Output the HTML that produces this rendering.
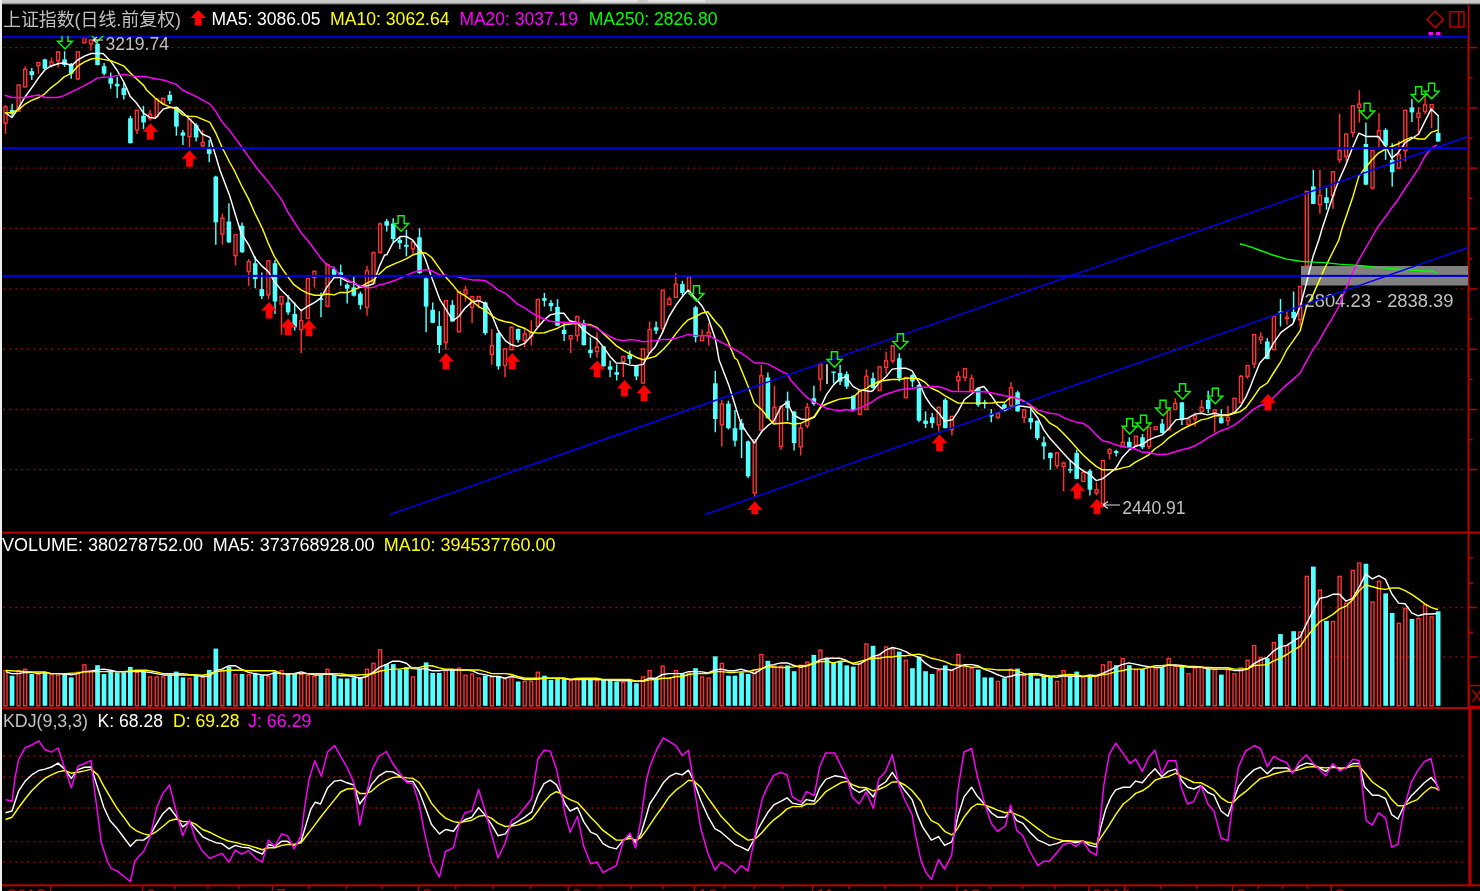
<!DOCTYPE html>
<html><head><meta charset="utf-8"><title>上证指数</title>
<style>html,body{margin:0;padding:0;background:#000;overflow:hidden}svg{display:block}</style></head>
<body><svg width="1480" height="891" viewBox="0 0 1480 891" shape-rendering="auto">
<rect x="0" y="0" width="1480" height="891" fill="#000"/>
<linearGradient id="tg" x1="0" y1="0" x2="0" y2="1"><stop offset="0" stop-color="#cccccc"/><stop offset="0.6" stop-color="#c4c4c4"/><stop offset="1" stop-color="#000"/></linearGradient>
<rect x="0" y="0" width="1480" height="5" fill="url(#tg)"/>
<rect x="580.5" y="0" width="57.5" height="2.2" fill="#e2e2e2"/><rect x="647.5" y="0" width="58" height="2.2" fill="#e2e2e2"/>
<rect x="0" y="0" width="2" height="891" fill="#eeeeee"/>
<line x1="3.5" y1="47.6" x2="1466" y2="47.6" stroke="#b80000" stroke-width="1.4" stroke-dasharray="1.5 4.5"/>
<line x1="3.5" y1="107.9" x2="1466" y2="107.9" stroke="#b80000" stroke-width="1.4" stroke-dasharray="1.5 4.5"/>
<line x1="3.5" y1="168.1" x2="1466" y2="168.1" stroke="#b80000" stroke-width="1.4" stroke-dasharray="1.5 4.5"/>
<line x1="3.5" y1="228.4" x2="1466" y2="228.4" stroke="#b80000" stroke-width="1.4" stroke-dasharray="1.5 4.5"/>
<line x1="3.5" y1="288.9" x2="1466" y2="288.9" stroke="#b80000" stroke-width="1.4" stroke-dasharray="1.5 4.5"/>
<line x1="3.5" y1="349.3" x2="1466" y2="349.3" stroke="#b80000" stroke-width="1.4" stroke-dasharray="1.5 4.5"/>
<line x1="3.5" y1="409.5" x2="1466" y2="409.5" stroke="#b80000" stroke-width="1.4" stroke-dasharray="1.5 4.5"/>
<line x1="3.5" y1="469.6" x2="1466" y2="469.6" stroke="#b80000" stroke-width="1.4" stroke-dasharray="1.5 4.5"/>
<line x1="3.5" y1="607.5" x2="1466" y2="607.5" stroke="#b80000" stroke-width="1.4" stroke-dasharray="1.5 4.5"/>
<line x1="3.5" y1="657" x2="1466" y2="657" stroke="#b80000" stroke-width="1.4" stroke-dasharray="1.5 4.5"/>
<line x1="3.5" y1="756" x2="1465" y2="756" stroke="#b80000" stroke-width="1.4" stroke-dasharray="1.5 4.5"/>
<line x1="3.5" y1="777" x2="1465" y2="777" stroke="#b80000" stroke-width="1.4" stroke-dasharray="1.5 4.5"/>
<line x1="3.5" y1="808" x2="1465" y2="808" stroke="#b80000" stroke-width="1.4" stroke-dasharray="1.5 4.5"/>
<line x1="3.5" y1="841.6" x2="1465" y2="841.6" stroke="#b80000" stroke-width="1.4" stroke-dasharray="1.5 4.5"/>
<line x1="3.5" y1="862" x2="1465" y2="862" stroke="#b80000" stroke-width="1.4" stroke-dasharray="1.5 4.5"/>
<rect x="2" y="531.6" width="1478" height="2" fill="#b80000"/>
<rect x="2" y="707" width="1478" height="2" fill="#b80000"/>
<rect x="2" y="884.3" width="1478" height="2" fill="#b80000"/>
<rect x="1467.5" y="5" width="2" height="702" fill="#b80000"/>
<rect x="1468.3" y="707" width="3.2" height="179.5" fill="#b80000"/>
<rect x="1469" y="46.85" width="8" height="1.5" fill="#b80000"/>
<rect x="1469" y="107.15" width="8" height="1.5" fill="#b80000"/>
<rect x="1469" y="167.35" width="8" height="1.5" fill="#b80000"/>
<rect x="1469" y="227.65" width="8" height="1.5" fill="#b80000"/>
<rect x="1469" y="288.15" width="8" height="1.5" fill="#b80000"/>
<rect x="1469" y="348.55" width="8" height="1.5" fill="#b80000"/>
<rect x="1469" y="408.75" width="8" height="1.5" fill="#b80000"/>
<rect x="1469" y="468.85" width="8" height="1.5" fill="#b80000"/>
<rect x="1469" y="77.0" width="3.5" height="1.5" fill="#b80000"/>
<rect x="1469" y="137.25" width="3.5" height="1.5" fill="#b80000"/>
<rect x="1469" y="197.5" width="3.5" height="1.5" fill="#b80000"/>
<rect x="1469" y="257.9" width="3.5" height="1.5" fill="#b80000"/>
<rect x="1469" y="318.35" width="3.5" height="1.5" fill="#b80000"/>
<rect x="1469" y="378.65" width="3.5" height="1.5" fill="#b80000"/>
<rect x="1469" y="438.8" width="3.5" height="1.5" fill="#b80000"/>
<rect x="1469" y="557.25" width="4" height="1.5" fill="#b80000"/>
<rect x="1469" y="582.25" width="4" height="1.5" fill="#b80000"/>
<rect x="1469" y="606.75" width="8" height="1.5" fill="#b80000"/>
<rect x="1469" y="631.75" width="4" height="1.5" fill="#b80000"/>
<rect x="1469" y="656.25" width="8" height="1.5" fill="#b80000"/>
<rect x="1469" y="685.5" width="12" height="21" fill="none" stroke="#b80000" stroke-width="1.5"/>
<path d="M1472.5 690 L1481 702 M1481 690 L1472.5 702" stroke="#b80000" stroke-width="1.3" fill="none"/>
<rect x="1301" y="266" width="167" height="19.5" fill="#808080"/>
<rect x="1301" y="286.5" width="154.5" height="23" fill="#000"/>
<text x="1304.5" y="307" fill="#c0c0c0" font-size="18.8" textLength="149" lengthAdjust="spacingAndGlyphs" font-family="Liberation Sans, Noto Sans CJK SC, sans-serif" >2804.23 - 2838.39</text>
<path d="M5.5 105V106.9M5.5 123.1V133.8" stroke="#ff3232" stroke-width="1.45"/>
<rect x="4" y="106.9" width="3" height="16.2" fill="#000" stroke="#ff3232" stroke-width="1.4"/>
<path d="M12.1 103.8V116.2" stroke="#54ffff" stroke-width="1.45"/>
<rect x="9.8" y="110" width="4.6" height="3.8" fill="#54ffff"/>
<path d="M18.6 84.4V85M18.6 111.2V111.9" stroke="#ff3232" stroke-width="1.45"/>
<rect x="17.1" y="85" width="3" height="26.2" fill="#000" stroke="#ff3232" stroke-width="1.4"/>
<path d="M25.2 66.2V69.4M25.2 86.9V87.2" stroke="#ff3232" stroke-width="1.45"/>
<rect x="23.7" y="69.4" width="3" height="17.5" fill="#000" stroke="#ff3232" stroke-width="1.4"/>
<path d="M31.8 68.1V80" stroke="#54ffff" stroke-width="1.45"/>
<rect x="29.5" y="71.2" width="4.6" height="3.8" fill="#54ffff"/>
<path d="M38.4 62.2V62.5M38.4 65.6V73.8" stroke="#ff3232" stroke-width="1.45"/>
<rect x="36.9" y="62.5" width="3" height="3.1" fill="#000" stroke="#ff3232" stroke-width="1.4"/>
<path d="M44.9 58.8V69.4" stroke="#54ffff" stroke-width="1.45"/>
<rect x="42.6" y="59.4" width="4.6" height="9.4" fill="#54ffff"/>
<path d="M51.5 57.5V61.9M51.5 65.6V67.5" stroke="#ff3232" stroke-width="1.45"/>
<rect x="50" y="61.9" width="3" height="3.8" fill="#000" stroke="#ff3232" stroke-width="1.4"/>
<path d="M58.1 51.5V51.9M58.1 60.6V67.5" stroke="#ff3232" stroke-width="1.45"/>
<rect x="56.6" y="51.9" width="3" height="8.8" fill="#000" stroke="#ff3232" stroke-width="1.4"/>
<path d="M64.6 51.2V66.9" stroke="#54ffff" stroke-width="1.45"/>
<rect x="62.3" y="59.4" width="4.6" height="5.6" fill="#54ffff"/>
<path d="M71.2 63.1V78.8" stroke="#54ffff" stroke-width="1.45"/>
<rect x="68.9" y="63.8" width="4.6" height="10" fill="#54ffff"/>
<path d="M77.8 51.5V51.9M77.8 78.8V80" stroke="#ff3232" stroke-width="1.45"/>
<rect x="76.3" y="51.9" width="3" height="26.9" fill="#000" stroke="#ff3232" stroke-width="1.4"/>
<path d="M84.4 37.2V37.8M84.4 42.5V43.8" stroke="#ff3232" stroke-width="1.45"/>
<rect x="82.9" y="37.8" width="3" height="4.8" fill="#000" stroke="#ff3232" stroke-width="1.4"/>
<path d="M90.9 39.4V40M90.9 43.8V50.6" stroke="#ff3232" stroke-width="1.45"/>
<rect x="89.4" y="40" width="3" height="3.8" fill="#000" stroke="#ff3232" stroke-width="1.4"/>
<path d="M97.5 42.5V65.4" stroke="#54ffff" stroke-width="1.45"/>
<rect x="95.2" y="43.8" width="4.6" height="21.2" fill="#54ffff"/>
<path d="M104.1 63.1V75.6" stroke="#54ffff" stroke-width="1.45"/>
<rect x="101.8" y="66.2" width="4.6" height="7.5" fill="#54ffff"/>
<path d="M110.7 72.5V88.8" stroke="#54ffff" stroke-width="1.45"/>
<rect x="108.4" y="78.1" width="4.6" height="5.6" fill="#54ffff"/>
<path d="M117.2 76.9V98.1" stroke="#54ffff" stroke-width="1.45"/>
<rect x="114.9" y="83.8" width="4.6" height="2.5" fill="#54ffff"/>
<path d="M123.8 82.5V99.4" stroke="#54ffff" stroke-width="1.45"/>
<rect x="121.5" y="88.1" width="4.6" height="6.9" fill="#54ffff"/>
<path d="M130.4 115.8V143.5" stroke="#54ffff" stroke-width="1.45"/>
<rect x="128.1" y="118.3" width="4.6" height="24.9" fill="#54ffff"/>
<path d="M136.9 109.9V110.3M136.9 129.9V134" stroke="#ff3232" stroke-width="1.45"/>
<rect x="135.4" y="110.3" width="3" height="19.6" fill="#000" stroke="#ff3232" stroke-width="1.4"/>
<path d="M143.5 105.8V129.1" stroke="#54ffff" stroke-width="1.45"/>
<rect x="141.2" y="115.8" width="4.6" height="6.6" fill="#54ffff"/>
<path d="M150.1 109.9V114.1M150.1 118.3V120.8" stroke="#ff3232" stroke-width="1.45"/>
<rect x="148.6" y="114.1" width="3" height="4.2" fill="#000" stroke="#ff3232" stroke-width="1.4"/>
<path d="M156.7 98.6V99.1M156.7 116.6V117.1" stroke="#ff3232" stroke-width="1.45"/>
<rect x="155.2" y="99.1" width="3" height="17.5" fill="#000" stroke="#ff3232" stroke-width="1.4"/>
<path d="M163.2 98V98.3M163.2 103.3V105" stroke="#ff3232" stroke-width="1.45"/>
<rect x="161.7" y="98.3" width="3" height="5" fill="#000" stroke="#ff3232" stroke-width="1.4"/>
<path d="M169.8 90.8V104.1" stroke="#54ffff" stroke-width="1.45"/>
<rect x="167.5" y="95" width="4.6" height="5.8" fill="#54ffff"/>
<path d="M176.4 106.6V135.7" stroke="#54ffff" stroke-width="1.45"/>
<rect x="174.1" y="107.5" width="4.6" height="19.1" fill="#54ffff"/>
<path d="M182.9 129.9V144.9" stroke="#54ffff" stroke-width="1.45"/>
<rect x="180.6" y="132.4" width="4.6" height="3.3" fill="#54ffff"/>
<path d="M189.5 118.6V119.1M189.5 136.5V148.2" stroke="#ff3232" stroke-width="1.45"/>
<rect x="188" y="119.1" width="3" height="17.5" fill="#000" stroke="#ff3232" stroke-width="1.4"/>
<path d="M196.1 123.2V141.5" stroke="#54ffff" stroke-width="1.45"/>
<rect x="193.8" y="124.9" width="4.6" height="12.5" fill="#54ffff"/>
<path d="M202.7 129.9V142.4M202.7 145.7V147.3" stroke="#ff3232" stroke-width="1.45"/>
<rect x="201.2" y="142.4" width="3" height="3.3" fill="#000" stroke="#ff3232" stroke-width="1.4"/>
<path d="M209.2 139.9V162.3" stroke="#54ffff" stroke-width="1.45"/>
<rect x="206.9" y="147.3" width="4.6" height="6.6" fill="#54ffff"/>
<path d="M215.8 175.8V244.8" stroke="#54ffff" stroke-width="1.45"/>
<rect x="213.5" y="176.6" width="4.6" height="45.7" fill="#54ffff"/>
<path d="M222.4 213.6V218.2M222.4 234V244.8" stroke="#ff3232" stroke-width="1.45"/>
<rect x="220.9" y="218.2" width="3" height="15.8" fill="#000" stroke="#ff3232" stroke-width="1.4"/>
<path d="M228.9 203.2V243.1" stroke="#54ffff" stroke-width="1.45"/>
<rect x="226.6" y="221.5" width="4.6" height="20.8" fill="#54ffff"/>
<path d="M235.5 234.5V234.8M235.5 255.6V265.6" stroke="#ff3232" stroke-width="1.45"/>
<rect x="234" y="234.8" width="3" height="20.8" fill="#000" stroke="#ff3232" stroke-width="1.4"/>
<path d="M242.1 222.4V252.8" stroke="#54ffff" stroke-width="1.45"/>
<rect x="239.8" y="225.7" width="4.6" height="26.6" fill="#54ffff"/>
<path d="M248.7 259.1V261.6M248.7 271.6V285.7" stroke="#ff3232" stroke-width="1.45"/>
<rect x="247.2" y="261.6" width="3" height="10" fill="#000" stroke="#ff3232" stroke-width="1.4"/>
<path d="M255.2 256.6V288.2" stroke="#54ffff" stroke-width="1.45"/>
<rect x="252.9" y="263.3" width="4.6" height="15.8" fill="#54ffff"/>
<path d="M261.8 272.4V299" stroke="#54ffff" stroke-width="1.45"/>
<rect x="259.5" y="289.1" width="4.6" height="7.1" fill="#54ffff"/>
<path d="M268.4 260.3V260.8M268.4 294.9V299" stroke="#ff3232" stroke-width="1.45"/>
<rect x="266.9" y="260.8" width="3" height="34.1" fill="#000" stroke="#ff3232" stroke-width="1.4"/>
<path d="M275 260V314" stroke="#54ffff" stroke-width="1.45"/>
<rect x="272.7" y="263.3" width="4.6" height="38.2" fill="#54ffff"/>
<path d="M281.5 296.2V296.5M281.5 304V334.8" stroke="#ff3232" stroke-width="1.45"/>
<rect x="280" y="296.5" width="3" height="7.5" fill="#000" stroke="#ff3232" stroke-width="1.4"/>
<path d="M288.1 294.9V314.8" stroke="#54ffff" stroke-width="1.45"/>
<rect x="285.8" y="302.4" width="4.6" height="10" fill="#54ffff"/>
<path d="M294.7 302.4V330.6" stroke="#54ffff" stroke-width="1.45"/>
<rect x="292.4" y="314" width="4.6" height="13.3" fill="#54ffff"/>
<path d="M301.2 309V320.6M301.2 329.8V353.1" stroke="#ff3232" stroke-width="1.45"/>
<rect x="299.7" y="320.6" width="3" height="9.1" fill="#000" stroke="#ff3232" stroke-width="1.4"/>
<path d="M307.8 278.3V278.6M307.8 318.2V318.5" stroke="#ff3232" stroke-width="1.45"/>
<rect x="306.3" y="278.6" width="3" height="39.6" fill="#000" stroke="#ff3232" stroke-width="1.4"/>
<path d="M314.4 270.9V271.3M314.4 277.4V287.4" stroke="#ff3232" stroke-width="1.45"/>
<rect x="312.9" y="271.3" width="3" height="6.2" fill="#000" stroke="#ff3232" stroke-width="1.4"/>
<path d="M321 292.4V317.3" stroke="#54ffff" stroke-width="1.45"/>
<rect x="318.7" y="298.2" width="4.6" height="1.7" fill="#54ffff"/>
<path d="M327.5 263.3V264.6M327.5 306.2V306.5" stroke="#ff3232" stroke-width="1.45"/>
<rect x="326" y="264.6" width="3" height="41.6" fill="#000" stroke="#ff3232" stroke-width="1.4"/>
<path d="M334.1 266.6V278.3" stroke="#54ffff" stroke-width="1.45"/>
<rect x="331.8" y="269.1" width="4.6" height="5.8" fill="#54ffff"/>
<path d="M340.7 264.6V285.7" stroke="#54ffff" stroke-width="1.45"/>
<rect x="338.4" y="272.4" width="4.6" height="4.2" fill="#54ffff"/>
<path d="M347.2 283.2V303.5" stroke="#54ffff" stroke-width="1.45"/>
<rect x="344.9" y="284.6" width="4.6" height="4" fill="#54ffff"/>
<path d="M353.8 276.6V296.5" stroke="#54ffff" stroke-width="1.45"/>
<rect x="351.5" y="287.4" width="4.6" height="8.3" fill="#54ffff"/>
<path d="M360.4 291.6V309.5" stroke="#54ffff" stroke-width="1.45"/>
<rect x="358.1" y="293.6" width="4.6" height="11.3" fill="#54ffff"/>
<path d="M367 265.8V270.8M367 307.3V315.7" stroke="#ff3232" stroke-width="1.45"/>
<rect x="365.5" y="270.8" width="3" height="36.6" fill="#000" stroke="#ff3232" stroke-width="1.4"/>
<path d="M373.5 251.3V252.8M373.5 283.2V283.6" stroke="#ff3232" stroke-width="1.45"/>
<rect x="372" y="252.8" width="3" height="30.4" fill="#000" stroke="#ff3232" stroke-width="1.4"/>
<path d="M380.1 222.4V224M380.1 252.3V252.6" stroke="#ff3232" stroke-width="1.45"/>
<rect x="378.6" y="224" width="3" height="28.3" fill="#000" stroke="#ff3232" stroke-width="1.4"/>
<path d="M386.7 219V231.5" stroke="#54ffff" stroke-width="1.45"/>
<rect x="384.4" y="221.2" width="4.6" height="4.5" fill="#54ffff"/>
<path d="M393.2 218.2V242.3" stroke="#54ffff" stroke-width="1.45"/>
<rect x="390.9" y="223.5" width="4.6" height="15.5" fill="#54ffff"/>
<path d="M399.8 236.5V249" stroke="#54ffff" stroke-width="1.45"/>
<rect x="397.5" y="239.8" width="4.6" height="3.3" fill="#54ffff"/>
<path d="M406.4 229.8V256.4" stroke="#54ffff" stroke-width="1.45"/>
<rect x="404.1" y="244.8" width="4.6" height="2" fill="#54ffff"/>
<path d="M413 241.5V241.8M413 249V253.9" stroke="#ff3232" stroke-width="1.45"/>
<rect x="411.5" y="241.8" width="3" height="7.1" fill="#000" stroke="#ff3232" stroke-width="1.4"/>
<path d="M419.5 228.2V273.9" stroke="#54ffff" stroke-width="1.45"/>
<rect x="417.2" y="237.3" width="4.6" height="35.7" fill="#54ffff"/>
<path d="M426.1 277.4V332.3" stroke="#54ffff" stroke-width="1.45"/>
<rect x="423.8" y="278.3" width="4.6" height="28.3" fill="#54ffff"/>
<path d="M432.7 302.4V323.1" stroke="#54ffff" stroke-width="1.45"/>
<rect x="430.4" y="309.8" width="4.6" height="13" fill="#54ffff"/>
<path d="M439.3 311.2V353.1" stroke="#54ffff" stroke-width="1.45"/>
<rect x="437" y="326.1" width="4.6" height="18.9" fill="#54ffff"/>
<path d="M445.8 300.4V300.7M445.8 342.3V349.8" stroke="#ff3232" stroke-width="1.45"/>
<rect x="444.3" y="300.7" width="3" height="41.6" fill="#000" stroke="#ff3232" stroke-width="1.4"/>
<path d="M452.4 300.2V321.8" stroke="#54ffff" stroke-width="1.45"/>
<rect x="450.1" y="304.9" width="4.6" height="16.6" fill="#54ffff"/>
<path d="M459 291.2V291.6M459 331.8V332.1" stroke="#ff3232" stroke-width="1.45"/>
<rect x="457.5" y="291.6" width="3" height="40.2" fill="#000" stroke="#ff3232" stroke-width="1.4"/>
<path d="M465.5 285.8V289.9M465.5 294.1V301.6" stroke="#ff3232" stroke-width="1.45"/>
<rect x="464" y="289.9" width="3" height="4.2" fill="#000" stroke="#ff3232" stroke-width="1.4"/>
<path d="M472.1 296.2V296.6M472.1 307.4V323.2" stroke="#ff3232" stroke-width="1.45"/>
<rect x="470.6" y="296.6" width="3" height="10.8" fill="#000" stroke="#ff3232" stroke-width="1.4"/>
<path d="M478.7 295.7V296.6M478.7 300.7V308.2" stroke="#ff3232" stroke-width="1.45"/>
<rect x="477.2" y="296.6" width="3" height="4.2" fill="#000" stroke="#ff3232" stroke-width="1.4"/>
<path d="M485.3 301.6V335.1" stroke="#54ffff" stroke-width="1.45"/>
<rect x="483" y="302.4" width="4.6" height="30.8" fill="#54ffff"/>
<path d="M491.8 329V345.6M491.8 354.4V364.7" stroke="#ff3232" stroke-width="1.45"/>
<rect x="490.3" y="345.6" width="3" height="8.8" fill="#000" stroke="#ff3232" stroke-width="1.4"/>
<path d="M498.4 329.8V369.7" stroke="#54ffff" stroke-width="1.45"/>
<rect x="496.1" y="333.1" width="4.6" height="33.2" fill="#54ffff"/>
<path d="M505 348.6V348.9M505 365.6V377.2" stroke="#ff3232" stroke-width="1.45"/>
<rect x="503.5" y="348.9" width="3" height="16.6" fill="#000" stroke="#ff3232" stroke-width="1.4"/>
<path d="M511.5 326.2V327.3M511.5 349.8V350.1" stroke="#ff3232" stroke-width="1.45"/>
<rect x="510" y="327.3" width="3" height="22.4" fill="#000" stroke="#ff3232" stroke-width="1.4"/>
<path d="M518.1 328.5V342.6" stroke="#54ffff" stroke-width="1.45"/>
<rect x="515.8" y="329" width="4.6" height="10.8" fill="#54ffff"/>
<path d="M524.7 329V334M524.7 340.6V347.3" stroke="#ff3232" stroke-width="1.45"/>
<rect x="523.2" y="334" width="3" height="6.6" fill="#000" stroke="#ff3232" stroke-width="1.4"/>
<path d="M531.3 320.2V333.1M531.3 336.5V345.6" stroke="#ff3232" stroke-width="1.45"/>
<rect x="529.8" y="333.1" width="3" height="3.3" fill="#000" stroke="#ff3232" stroke-width="1.4"/>
<path d="M537.8 299.1V299.4M537.8 326.5V326.8" stroke="#ff3232" stroke-width="1.45"/>
<rect x="536.3" y="299.4" width="3" height="27.1" fill="#000" stroke="#ff3232" stroke-width="1.4"/>
<path d="M544.4 292.9V306.5" stroke="#54ffff" stroke-width="1.45"/>
<rect x="542.1" y="298.2" width="4.6" height="2.5" fill="#54ffff"/>
<path d="M551 299.9V311.2" stroke="#54ffff" stroke-width="1.45"/>
<rect x="548.7" y="302.9" width="4.6" height="3.3" fill="#54ffff"/>
<path d="M557.5 299.1V326" stroke="#54ffff" stroke-width="1.45"/>
<rect x="555.2" y="306.9" width="4.6" height="18.8" fill="#54ffff"/>
<path d="M564.1 323.2V341.1" stroke="#54ffff" stroke-width="1.45"/>
<rect x="561.8" y="329.8" width="4.6" height="4.2" fill="#54ffff"/>
<path d="M570.7 335.3V335.6M570.7 339V353.1" stroke="#ff3232" stroke-width="1.45"/>
<rect x="569.2" y="335.6" width="3" height="3.3" fill="#000" stroke="#ff3232" stroke-width="1.4"/>
<path d="M577.3 315.7V316.5M577.3 335.6V341.4" stroke="#ff3232" stroke-width="1.45"/>
<rect x="575.8" y="316.5" width="3" height="19.1" fill="#000" stroke="#ff3232" stroke-width="1.4"/>
<path d="M583.8 319.8V345.4" stroke="#54ffff" stroke-width="1.45"/>
<rect x="581.5" y="324" width="4.6" height="21.1" fill="#54ffff"/>
<path d="M590.4 337.3V357.7" stroke="#54ffff" stroke-width="1.45"/>
<rect x="588.1" y="349.8" width="4.6" height="3.3" fill="#54ffff"/>
<path d="M597 332.3V347.3M597 351.4V357.7" stroke="#ff3232" stroke-width="1.45"/>
<rect x="595.5" y="347.3" width="3" height="4.2" fill="#000" stroke="#ff3232" stroke-width="1.4"/>
<path d="M603.6 346.1V366.7" stroke="#54ffff" stroke-width="1.45"/>
<rect x="601.3" y="346.4" width="4.6" height="19.9" fill="#54ffff"/>
<path d="M610.1 360.6V377.2" stroke="#54ffff" stroke-width="1.45"/>
<rect x="607.8" y="366.4" width="4.6" height="3.3" fill="#54ffff"/>
<path d="M616.7 364.4V380.5" stroke="#54ffff" stroke-width="1.45"/>
<rect x="614.4" y="372.2" width="4.6" height="2.5" fill="#54ffff"/>
<path d="M623.3 356.1V356.4M623.3 361.7V377.2" stroke="#ff3232" stroke-width="1.45"/>
<rect x="621.8" y="356.4" width="3" height="5.3" fill="#000" stroke="#ff3232" stroke-width="1.4"/>
<path d="M629.8 350.6V363.9" stroke="#54ffff" stroke-width="1.45"/>
<rect x="627.5" y="354.7" width="4.6" height="4.2" fill="#54ffff"/>
<path d="M636.4 365.2V380" stroke="#54ffff" stroke-width="1.45"/>
<rect x="634.1" y="365.6" width="4.6" height="10.8" fill="#54ffff"/>
<path d="M643 348.6V348.9M643 383V383.3" stroke="#ff3232" stroke-width="1.45"/>
<rect x="641.5" y="348.9" width="3" height="34.1" fill="#000" stroke="#ff3232" stroke-width="1.4"/>
<path d="M649.6 321.5V329.5M649.6 352.7V353.1" stroke="#ff3232" stroke-width="1.45"/>
<rect x="648.1" y="329.5" width="3" height="23.3" fill="#000" stroke="#ff3232" stroke-width="1.4"/>
<path d="M656.1 321.5V333.9" stroke="#54ffff" stroke-width="1.45"/>
<rect x="653.8" y="327.3" width="4.6" height="3.3" fill="#54ffff"/>
<path d="M662.7 289.9V290.2M662.7 328.5V333.1" stroke="#ff3232" stroke-width="1.45"/>
<rect x="661.2" y="290.2" width="3" height="38.2" fill="#000" stroke="#ff3232" stroke-width="1.4"/>
<path d="M669.3 296.5V299M669.3 304.5V304.9" stroke="#ff3232" stroke-width="1.45"/>
<rect x="667.8" y="299" width="3" height="5.5" fill="#000" stroke="#ff3232" stroke-width="1.4"/>
<path d="M675.8 273.3V284.1M675.8 297.4V297.7" stroke="#ff3232" stroke-width="1.45"/>
<rect x="674.3" y="284.1" width="3" height="13.3" fill="#000" stroke="#ff3232" stroke-width="1.4"/>
<path d="M682.4 280.8V295.7" stroke="#54ffff" stroke-width="1.45"/>
<rect x="680.1" y="284.1" width="4.6" height="8.8" fill="#54ffff"/>
<path d="M689 276.6V276.9M689 291.6V292.4" stroke="#ff3232" stroke-width="1.45"/>
<rect x="687.5" y="276.9" width="3" height="14.6" fill="#000" stroke="#ff3232" stroke-width="1.4"/>
<path d="M695.6 305.7V342.3" stroke="#54ffff" stroke-width="1.45"/>
<rect x="693.3" y="307.3" width="4.6" height="29.9" fill="#54ffff"/>
<path d="M702.1 329.5V335.6M702.1 340.6V340.9" stroke="#ff3232" stroke-width="1.45"/>
<rect x="700.6" y="335.6" width="3" height="5" fill="#000" stroke="#ff3232" stroke-width="1.4"/>
<path d="M708.7 323.1V332.3M708.7 336.1V345.6" stroke="#ff3232" stroke-width="1.45"/>
<rect x="707.2" y="332.3" width="3" height="3.8" fill="#000" stroke="#ff3232" stroke-width="1.4"/>
<path d="M715.3 370.8V432.3" stroke="#54ffff" stroke-width="1.45"/>
<rect x="713" y="383.3" width="4.6" height="35.7" fill="#54ffff"/>
<path d="M721.8 399.9V404M721.8 424.8V446.4" stroke="#ff3232" stroke-width="1.45"/>
<rect x="720.3" y="404" width="3" height="20.8" fill="#000" stroke="#ff3232" stroke-width="1.4"/>
<path d="M728.4 400.7V429.5" stroke="#54ffff" stroke-width="1.45"/>
<rect x="726.1" y="403.6" width="4.6" height="24.6" fill="#54ffff"/>
<path d="M735 409.9V446.4" stroke="#54ffff" stroke-width="1.45"/>
<rect x="732.7" y="428.2" width="4.6" height="12.5" fill="#54ffff"/>
<path d="M741.6 419V458.1" stroke="#54ffff" stroke-width="1.45"/>
<rect x="739.3" y="423.2" width="4.6" height="6.6" fill="#54ffff"/>
<path d="M748.1 440.6V478" stroke="#54ffff" stroke-width="1.45"/>
<rect x="745.8" y="441.4" width="4.6" height="34.9" fill="#54ffff"/>
<path d="M754.7 439V439.8M754.7 493V497.1" stroke="#ff3232" stroke-width="1.45"/>
<rect x="753.2" y="439.8" width="3" height="53.2" fill="#000" stroke="#ff3232" stroke-width="1.4"/>
<path d="M761.3 365V375.8M761.3 430.1V430.5" stroke="#ff3232" stroke-width="1.45"/>
<rect x="759.8" y="375.8" width="3" height="54.4" fill="#000" stroke="#ff3232" stroke-width="1.4"/>
<path d="M767.9 372.5V418.5" stroke="#54ffff" stroke-width="1.45"/>
<rect x="765.6" y="377.5" width="4.6" height="40.7" fill="#54ffff"/>
<path d="M774.4 385.8V407.4M774.4 423.2V424" stroke="#ff3232" stroke-width="1.45"/>
<rect x="772.9" y="407.4" width="3" height="15.8" fill="#000" stroke="#ff3232" stroke-width="1.4"/>
<path d="M781 406.2V406.5M781 446.4V449.8" stroke="#ff3232" stroke-width="1.45"/>
<rect x="779.5" y="406.5" width="3" height="39.9" fill="#000" stroke="#ff3232" stroke-width="1.4"/>
<path d="M787.6 391.6V420.7" stroke="#54ffff" stroke-width="1.45"/>
<rect x="785.3" y="400.7" width="4.6" height="7.5" fill="#54ffff"/>
<path d="M794.1 410.7V450.6" stroke="#54ffff" stroke-width="1.45"/>
<rect x="791.8" y="411.5" width="4.6" height="31.6" fill="#54ffff"/>
<path d="M800.7 424V428.2M800.7 446.8V455.6" stroke="#ff3232" stroke-width="1.45"/>
<rect x="799.2" y="428.2" width="3" height="18.6" fill="#000" stroke="#ff3232" stroke-width="1.4"/>
<path d="M807.3 402.9V407.4M807.3 425.7V428.2" stroke="#ff3232" stroke-width="1.45"/>
<rect x="805.8" y="407.4" width="3" height="18.3" fill="#000" stroke="#ff3232" stroke-width="1.4"/>
<path d="M813.9 385.8V405.7" stroke="#54ffff" stroke-width="1.45"/>
<rect x="811.6" y="398.2" width="4.6" height="5.8" fill="#54ffff"/>
<path d="M820.4 362.5V364.2M820.4 379.1V390.8" stroke="#ff3232" stroke-width="1.45"/>
<rect x="818.9" y="364.2" width="3" height="15" fill="#000" stroke="#ff3232" stroke-width="1.4"/>
<path d="M827 364.2V384.1" stroke="#ffffff" stroke-width="1.45"/>
<path d="M833.6 371.3V383.3" stroke="#54ffff" stroke-width="1.45"/>
<rect x="831.3" y="371.6" width="4.6" height="1.2" fill="#54ffff"/>
<path d="M840.1 365V384.9" stroke="#54ffff" stroke-width="1.45"/>
<rect x="837.8" y="373" width="4.6" height="8.6" fill="#54ffff"/>
<path d="M846.7 371.3V389.1" stroke="#54ffff" stroke-width="1.45"/>
<rect x="844.4" y="374.1" width="4.6" height="12.5" fill="#54ffff"/>
<path d="M853.3 395.4V410.2" stroke="#54ffff" stroke-width="1.45"/>
<rect x="851" y="395.7" width="4.6" height="14.1" fill="#54ffff"/>
<path d="M859.9 390.4V390.8M859.9 414V414.4" stroke="#ff3232" stroke-width="1.45"/>
<rect x="858.4" y="390.8" width="3" height="23.3" fill="#000" stroke="#ff3232" stroke-width="1.4"/>
<path d="M866.4 369.6V376.3M866.4 409.5V409.9" stroke="#ff3232" stroke-width="1.45"/>
<rect x="864.9" y="376.3" width="3" height="33.2" fill="#000" stroke="#ff3232" stroke-width="1.4"/>
<path d="M873 372.4V388.5" stroke="#54ffff" stroke-width="1.45"/>
<rect x="870.7" y="378.2" width="4.6" height="10" fill="#54ffff"/>
<path d="M879.6 366.6V366.9M879.6 390.2V390.5" stroke="#ff3232" stroke-width="1.45"/>
<rect x="878.1" y="366.9" width="3" height="23.3" fill="#000" stroke="#ff3232" stroke-width="1.4"/>
<path d="M886.1 351.6V360.8M886.1 367.4V374" stroke="#ff3232" stroke-width="1.45"/>
<rect x="884.6" y="360.8" width="3" height="6.6" fill="#000" stroke="#ff3232" stroke-width="1.4"/>
<path d="M892.7 345.5V345.8M892.7 360.8V363.2" stroke="#ff3232" stroke-width="1.45"/>
<rect x="891.2" y="345.8" width="3" height="15" fill="#000" stroke="#ff3232" stroke-width="1.4"/>
<path d="M899.3 353.3V381.5" stroke="#54ffff" stroke-width="1.45"/>
<rect x="897" y="358.3" width="4.6" height="19.9" fill="#54ffff"/>
<path d="M905.9 377V377.4M905.9 397.7V398" stroke="#ff3232" stroke-width="1.45"/>
<rect x="904.4" y="377.4" width="3" height="20.3" fill="#000" stroke="#ff3232" stroke-width="1.4"/>
<path d="M912.4 374V387.3" stroke="#54ffff" stroke-width="1.45"/>
<rect x="910.1" y="375.2" width="4.6" height="6.3" fill="#54ffff"/>
<path d="M919 384V422.3" stroke="#54ffff" stroke-width="1.45"/>
<rect x="916.7" y="384.9" width="4.6" height="35.7" fill="#54ffff"/>
<path d="M925.6 411.4V428.1" stroke="#54ffff" stroke-width="1.45"/>
<rect x="923.3" y="420.6" width="4.6" height="3.3" fill="#54ffff"/>
<path d="M932.2 413.1V428.1" stroke="#54ffff" stroke-width="1.45"/>
<rect x="929.9" y="417.3" width="4.6" height="5.8" fill="#54ffff"/>
<path d="M938.7 407V407.3M938.7 424.7V431.4" stroke="#ff3232" stroke-width="1.45"/>
<rect x="937.2" y="407.3" width="3" height="17.5" fill="#000" stroke="#ff3232" stroke-width="1.4"/>
<path d="M945.3 398.2V428.4" stroke="#54ffff" stroke-width="1.45"/>
<rect x="943" y="399.8" width="4.6" height="28.3" fill="#54ffff"/>
<path d="M951.9 416.1V416.4M951.9 429.7V435.6" stroke="#ff3232" stroke-width="1.45"/>
<rect x="950.4" y="416.4" width="3" height="13.3" fill="#000" stroke="#ff3232" stroke-width="1.4"/>
<path d="M958.4 371.6V376.5M958.4 380.7V390.7" stroke="#ff3232" stroke-width="1.45"/>
<rect x="956.9" y="376.5" width="3" height="4.2" fill="#000" stroke="#ff3232" stroke-width="1.4"/>
<path d="M965 368.2V368.6M965 377.4V381.2" stroke="#ff3232" stroke-width="1.45"/>
<rect x="963.5" y="368.6" width="3" height="8.8" fill="#000" stroke="#ff3232" stroke-width="1.4"/>
<path d="M971.6 374.5V378.5M971.6 390.7V391" stroke="#ff3232" stroke-width="1.45"/>
<rect x="970.1" y="378.5" width="3" height="12.1" fill="#000" stroke="#ff3232" stroke-width="1.4"/>
<path d="M978.2 387.8V406.8" stroke="#54ffff" stroke-width="1.45"/>
<rect x="975.9" y="388.2" width="4.6" height="16.6" fill="#54ffff"/>
<path d="M984.7 399.8V408.5" stroke="#54ffff" stroke-width="1.45"/>
<rect x="982.4" y="402.3" width="4.6" height="1.7" fill="#54ffff"/>
<path d="M991.3 409V422.3" stroke="#54ffff" stroke-width="1.45"/>
<rect x="989" y="413.9" width="4.6" height="2.5" fill="#54ffff"/>
<path d="M997.9 412.3V413.1M997.9 417.3V418.9" stroke="#ff3232" stroke-width="1.45"/>
<rect x="996.4" y="413.1" width="3" height="4.2" fill="#000" stroke="#ff3232" stroke-width="1.4"/>
<path d="M1004.4 403.1V410.6" stroke="#54ffff" stroke-width="1.45"/>
<rect x="1002.1" y="404.5" width="4.6" height="3.7" fill="#54ffff"/>
<path d="M1011 381.9V387.8M1011 405.6V406" stroke="#ff3232" stroke-width="1.45"/>
<rect x="1009.5" y="387.8" width="3" height="17.8" fill="#000" stroke="#ff3232" stroke-width="1.4"/>
<path d="M1017.6 390.7V411.8" stroke="#54ffff" stroke-width="1.45"/>
<rect x="1015.3" y="392.3" width="4.6" height="19.1" fill="#54ffff"/>
<path d="M1024.2 409.5V409.8M1024.2 417.3V423.1" stroke="#ff3232" stroke-width="1.45"/>
<rect x="1022.7" y="409.8" width="3" height="7.5" fill="#000" stroke="#ff3232" stroke-width="1.4"/>
<path d="M1030.7 408.1V429.4" stroke="#54ffff" stroke-width="1.45"/>
<rect x="1028.4" y="418.1" width="4.6" height="4.2" fill="#54ffff"/>
<path d="M1037.3 420.4V440.2" stroke="#54ffff" stroke-width="1.45"/>
<rect x="1035" y="420.7" width="4.6" height="17.5" fill="#54ffff"/>
<path d="M1043.9 436.5V459.5" stroke="#54ffff" stroke-width="1.45"/>
<rect x="1041.6" y="442.3" width="4.6" height="4.2" fill="#54ffff"/>
<path d="M1050.4 452.5V469.8" stroke="#54ffff" stroke-width="1.45"/>
<rect x="1048.1" y="452.8" width="4.6" height="5.3" fill="#54ffff"/>
<path d="M1057 452.5V452.8M1057 465.6V468.4" stroke="#ff3232" stroke-width="1.45"/>
<rect x="1055.5" y="452.8" width="3" height="12.8" fill="#000" stroke="#ff3232" stroke-width="1.4"/>
<path d="M1063.6 461.4V463.1M1063.6 466.4V491" stroke="#ff3232" stroke-width="1.45"/>
<rect x="1062.1" y="463.1" width="3" height="3.3" fill="#000" stroke="#ff3232" stroke-width="1.4"/>
<path d="M1070.2 459.8V473.1" stroke="#54ffff" stroke-width="1.45"/>
<rect x="1067.9" y="468.9" width="4.6" height="1.7" fill="#54ffff"/>
<path d="M1076.7 449.8V479.2" stroke="#54ffff" stroke-width="1.45"/>
<rect x="1074.4" y="453.1" width="4.6" height="25.8" fill="#54ffff"/>
<path d="M1083.3 469.8V472.3M1083.3 481.4V481.7" stroke="#ff3232" stroke-width="1.45"/>
<rect x="1081.8" y="472.3" width="3" height="9.1" fill="#000" stroke="#ff3232" stroke-width="1.4"/>
<path d="M1089.9 468.9V495.5" stroke="#54ffff" stroke-width="1.45"/>
<rect x="1087.6" y="470.6" width="4.6" height="19.1" fill="#54ffff"/>
<path d="M1096.5 482.2V489.7M1096.5 493V495.5" stroke="#ff3232" stroke-width="1.45"/>
<rect x="1095" y="489.7" width="3" height="3.3" fill="#000" stroke="#ff3232" stroke-width="1.4"/>
<path d="M1103 460.3V460.6M1103 503.8V504.2" stroke="#ff3232" stroke-width="1.45"/>
<rect x="1101.5" y="460.6" width="3" height="43.2" fill="#000" stroke="#ff3232" stroke-width="1.4"/>
<path d="M1109.6 448.2V449.5M1109.6 453.1V459.5" stroke="#ff3232" stroke-width="1.45"/>
<rect x="1108.1" y="449.5" width="3" height="3.7" fill="#000" stroke="#ff3232" stroke-width="1.4"/>
<path d="M1116.2 449.8V456.5" stroke="#54ffff" stroke-width="1.45"/>
<rect x="1113.9" y="451.1" width="4.6" height="2" fill="#54ffff"/>
<path d="M1122.7 425.7V442.3M1122.7 446.5V446.8" stroke="#ff3232" stroke-width="1.45"/>
<rect x="1121.2" y="442.3" width="3" height="4.2" fill="#000" stroke="#ff3232" stroke-width="1.4"/>
<path d="M1129.3 437.3V448.2" stroke="#54ffff" stroke-width="1.45"/>
<rect x="1127" y="441.8" width="4.6" height="6" fill="#54ffff"/>
<path d="M1135.9 435.9V436.2M1135.9 445.2V445.5" stroke="#ff3232" stroke-width="1.45"/>
<rect x="1134.4" y="436.2" width="3" height="9" fill="#000" stroke="#ff3232" stroke-width="1.4"/>
<path d="M1142.5 434V449" stroke="#54ffff" stroke-width="1.45"/>
<rect x="1140.2" y="437.3" width="4.6" height="10" fill="#54ffff"/>
<path d="M1149 427V427.4M1149 446.5V449" stroke="#ff3232" stroke-width="1.45"/>
<rect x="1147.5" y="427.4" width="3" height="19.1" fill="#000" stroke="#ff3232" stroke-width="1.4"/>
<path d="M1155.6 426.5V426.9M1155.6 429.5V429.9" stroke="#ff3232" stroke-width="1.45"/>
<rect x="1154.1" y="426.9" width="3" height="2.7" fill="#000" stroke="#ff3232" stroke-width="1.4"/>
<path d="M1162.2 419.1V433.2" stroke="#54ffff" stroke-width="1.45"/>
<rect x="1159.9" y="423.6" width="4.6" height="9.3" fill="#54ffff"/>
<path d="M1168.7 409.6V409.9M1168.7 429.9V430.2" stroke="#ff3232" stroke-width="1.45"/>
<rect x="1167.2" y="409.9" width="3" height="19.9" fill="#000" stroke="#ff3232" stroke-width="1.4"/>
<path d="M1175.3 398.3V403.3M1175.3 409.6V409.9" stroke="#ff3232" stroke-width="1.45"/>
<rect x="1173.8" y="403.3" width="3" height="6.3" fill="#000" stroke="#ff3232" stroke-width="1.4"/>
<path d="M1181.9 402.1V424.9" stroke="#54ffff" stroke-width="1.45"/>
<rect x="1179.6" y="402.4" width="4.6" height="17.5" fill="#54ffff"/>
<path d="M1188.5 418.7V419.1M1188.5 424.5V424.9" stroke="#ff3232" stroke-width="1.45"/>
<rect x="1187" y="419.1" width="3" height="5.5" fill="#000" stroke="#ff3232" stroke-width="1.4"/>
<path d="M1195 412.4V415.7M1195 419.1V426.5" stroke="#ff3232" stroke-width="1.45"/>
<rect x="1193.5" y="415.7" width="3" height="3.3" fill="#000" stroke="#ff3232" stroke-width="1.4"/>
<path d="M1201.6 399.9V407.4M1201.6 411.6V412.4" stroke="#ff3232" stroke-width="1.45"/>
<rect x="1200.1" y="407.4" width="3" height="4.2" fill="#000" stroke="#ff3232" stroke-width="1.4"/>
<path d="M1208.2 390.8V413.2" stroke="#54ffff" stroke-width="1.45"/>
<rect x="1205.9" y="399.9" width="4.6" height="9.1" fill="#54ffff"/>
<path d="M1214.7 409.1V409.9M1214.7 412.4V432.4" stroke="#ff3232" stroke-width="1.45"/>
<rect x="1213.2" y="409.9" width="3" height="2.5" fill="#000" stroke="#ff3232" stroke-width="1.4"/>
<path d="M1221.3 409.1V423.6" stroke="#54ffff" stroke-width="1.45"/>
<rect x="1219" y="417.4" width="4.6" height="5.8" fill="#54ffff"/>
<path d="M1227.9 405.8V417.4M1227.9 420.7V425.7" stroke="#ff3232" stroke-width="1.45"/>
<rect x="1226.4" y="417.4" width="3" height="3.3" fill="#000" stroke="#ff3232" stroke-width="1.4"/>
<path d="M1234.5 398V398.3M1234.5 412.4V412.7" stroke="#ff3232" stroke-width="1.45"/>
<rect x="1233" y="398.3" width="3" height="14.1" fill="#000" stroke="#ff3232" stroke-width="1.4"/>
<path d="M1241 375V376.3M1241 402.5V403" stroke="#ff3232" stroke-width="1.45"/>
<rect x="1239.5" y="376.3" width="3" height="26.2" fill="#000" stroke="#ff3232" stroke-width="1.4"/>
<path d="M1247.6 365.2V365.5M1247.6 376.3V378.8" stroke="#ff3232" stroke-width="1.45"/>
<rect x="1246.1" y="365.5" width="3" height="10.8" fill="#000" stroke="#ff3232" stroke-width="1.4"/>
<path d="M1254.2 334.4V334.7M1254.2 363.8V368" stroke="#ff3232" stroke-width="1.45"/>
<rect x="1252.7" y="334.7" width="3" height="29.1" fill="#000" stroke="#ff3232" stroke-width="1.4"/>
<path d="M1260.8 332.3V337.2M1260.8 339.7V343.9" stroke="#ff3232" stroke-width="1.45"/>
<rect x="1259.3" y="337.2" width="3" height="2.5" fill="#000" stroke="#ff3232" stroke-width="1.4"/>
<path d="M1267.3 338.1V359.2" stroke="#54ffff" stroke-width="1.45"/>
<rect x="1265" y="341.4" width="4.6" height="17.5" fill="#54ffff"/>
<path d="M1273.9 316.1V316.5M1273.9 349.7V350" stroke="#ff3232" stroke-width="1.45"/>
<rect x="1272.4" y="316.5" width="3" height="33.2" fill="#000" stroke="#ff3232" stroke-width="1.4"/>
<path d="M1280.5 299V326.4" stroke="#54ffff" stroke-width="1.45"/>
<rect x="1278.2" y="311.5" width="4.6" height="1.2" fill="#54ffff"/>
<path d="M1287 311.5V317.3M1287 318.1V324.8" stroke="#ff3232" stroke-width="1.45"/>
<rect x="1285.5" y="317.3" width="3" height="1.2" fill="#000" stroke="#ff3232" stroke-width="1.4"/>
<path d="M1293.6 291.5V322.3" stroke="#54ffff" stroke-width="1.45"/>
<rect x="1291.3" y="311.8" width="4.6" height="6.3" fill="#54ffff"/>
<path d="M1300.2 286.2V286.5M1300.2 319.8V326.4" stroke="#ff3232" stroke-width="1.45"/>
<rect x="1298.7" y="286.5" width="3" height="33.2" fill="#000" stroke="#ff3232" stroke-width="1.4"/>
<path d="M1306.8 191V191.4M1306.8 265.8V266.2" stroke="#ff3232" stroke-width="1.45"/>
<rect x="1305.3" y="191.4" width="3" height="74.5" fill="#000" stroke="#ff3232" stroke-width="1.4"/>
<path d="M1313.3 169.8V204.2" stroke="#54ffff" stroke-width="1.45"/>
<rect x="1311" y="186.4" width="4.6" height="17.5" fill="#54ffff"/>
<path d="M1319.9 169.8V195.5M1319.9 204.7V213.8" stroke="#ff3232" stroke-width="1.45"/>
<rect x="1318.4" y="195.5" width="3" height="9.1" fill="#000" stroke="#ff3232" stroke-width="1.4"/>
<path d="M1326.5 188V209.7" stroke="#54ffff" stroke-width="1.45"/>
<rect x="1324.2" y="197.2" width="4.6" height="5.8" fill="#54ffff"/>
<path d="M1333 171.4V171.8M1333 195.5V208.8" stroke="#ff3232" stroke-width="1.45"/>
<rect x="1331.5" y="171.8" width="3" height="23.8" fill="#000" stroke="#ff3232" stroke-width="1.4"/>
<path d="M1339.6 114.1V150.6M1339.6 159.8V162.8" stroke="#ff3232" stroke-width="1.45"/>
<rect x="1338.1" y="150.6" width="3" height="9.1" fill="#000" stroke="#ff3232" stroke-width="1.4"/>
<path d="M1346.2 133.7V134M1346.2 156.5V161.4" stroke="#ff3232" stroke-width="1.45"/>
<rect x="1344.7" y="134" width="3" height="22.4" fill="#000" stroke="#ff3232" stroke-width="1.4"/>
<path d="M1352.8 105.4V105.8M1352.8 132.4V137.3" stroke="#ff3232" stroke-width="1.45"/>
<rect x="1351.3" y="105.8" width="3" height="26.6" fill="#000" stroke="#ff3232" stroke-width="1.4"/>
<path d="M1359.3 90.3V104.1M1359.3 107.4V122.4" stroke="#ff3232" stroke-width="1.45"/>
<rect x="1357.8" y="104.1" width="3" height="3.3" fill="#000" stroke="#ff3232" stroke-width="1.4"/>
<path d="M1365.9 122.4V185.1" stroke="#54ffff" stroke-width="1.45"/>
<rect x="1363.6" y="144" width="4.6" height="40.7" fill="#54ffff"/>
<path d="M1372.5 150.3V150.6M1372.5 188V189.7" stroke="#ff3232" stroke-width="1.45"/>
<rect x="1371" y="150.6" width="3" height="37.4" fill="#000" stroke="#ff3232" stroke-width="1.4"/>
<path d="M1379 113.2V130.7M1379 137.3V148.2" stroke="#ff3232" stroke-width="1.45"/>
<rect x="1377.5" y="130.7" width="3" height="6.6" fill="#000" stroke="#ff3232" stroke-width="1.4"/>
<path d="M1385.6 128.2V159.8" stroke="#54ffff" stroke-width="1.45"/>
<rect x="1383.3" y="129.9" width="4.6" height="15.8" fill="#54ffff"/>
<path d="M1392.2 143.2V186.4" stroke="#54ffff" stroke-width="1.45"/>
<rect x="1389.9" y="159.8" width="4.6" height="12.5" fill="#54ffff"/>
<path d="M1398.8 140.7V154.8M1398.8 168.1V168.4" stroke="#ff3232" stroke-width="1.45"/>
<rect x="1397.3" y="154.8" width="3" height="13.3" fill="#000" stroke="#ff3232" stroke-width="1.4"/>
<path d="M1405.3 109.9V110.3M1405.3 150.6V161.4" stroke="#ff3232" stroke-width="1.45"/>
<rect x="1403.8" y="110.3" width="3" height="40.4" fill="#000" stroke="#ff3232" stroke-width="1.4"/>
<path d="M1411.9 99.1V121.9" stroke="#54ffff" stroke-width="1.45"/>
<rect x="1409.6" y="107.4" width="4.6" height="5" fill="#54ffff"/>
<path d="M1418.5 106.9V113.2M1418.5 117.4V134.9" stroke="#ff3232" stroke-width="1.45"/>
<rect x="1417" y="113.2" width="3" height="4.2" fill="#000" stroke="#ff3232" stroke-width="1.4"/>
<path d="M1425.1 95.8V104.9M1425.1 111.6V114.1" stroke="#ff3232" stroke-width="1.45"/>
<rect x="1423.6" y="104.9" width="3" height="6.6" fill="#000" stroke="#ff3232" stroke-width="1.4"/>
<path d="M1431.6 104.3V104.6M1431.6 108.3V128.2" stroke="#ff3232" stroke-width="1.45"/>
<rect x="1430.1" y="104.6" width="3" height="3.7" fill="#000" stroke="#ff3232" stroke-width="1.4"/>
<path d="M1438.2 114.9V141.8" stroke="#54ffff" stroke-width="1.45"/>
<rect x="1435.9" y="132.9" width="4.6" height="8.6" fill="#54ffff"/>
<path d="M5 112.5 L11.9 117.5 L18.1 108.8 L25.5 96.2 L31 88.8 L38.8 77.5 L44.8 70 L50.6 66.2 L57.9 63.8 L64.1 62.8 L71.6 65.6 L77.8 60 L84.5 56.2 L91.2 53.5 L97.2 53.5 L103.1 53.5 L110.6 61.2 L116.9 70 L124.1 82.5 L130.3 96.6 L136.1 102.5 L143.8 113.3 L149.9 117.4 L155.4 118.3 L163.2 109.1 L169.2 107.5 L176.8 107.5 L182.7 112.4 L188.7 118.3 L196.3 125.7 L202.1 134 L209.9 137.4 L215.9 156.5 L219.9 170 L229.4 194.9 L235.2 214 L241.2 233.2 L248.7 244.8 L254.9 258.1 L262.3 266.4 L268.2 271.4 L274.3 281.4 L281.8 290.5 L287.6 296.3 L293.9 303 L301.2 310.7 L307.3 306.5 L314.8 302.4 L320.8 298.2 L326.8 287.4 L334.2 277.4 L340.2 277.4 L347.7 281.6 L353.9 282.4 L359.7 287.4 L367.2 285.7 L373.3 284.1 L379.3 266.6 L384.6 255 L386.7 254.8 L392.8 243.1 L400.3 236.5 L406.4 236.5 L412.3 239.8 L419.7 249.8 L422.8 253.3 L425.7 260 L431.7 277.4 L440 299.9 L445.3 308.2 L452.8 320.7 L458.8 316.5 L464.9 308.2 L472.4 301.6 L478.6 300.7 L485.7 303.6 L491.9 314.9 L497.8 329.8 L505.3 340.6 L511.5 344.8 L517.3 346.4 L525.1 343.1 L530.9 336.5 L538.4 326.5 L544.4 319.8 L550.2 314.9 L557.7 313.2 L563.8 313.2 L569.7 320.7 L577.1 322.8 L583.3 329.8 L590.8 335.6 L596.7 339 L602.9 346.4 L610 356.4 L616.2 363.1 L623.7 363.1 L629.8 365.1 L635.8 365.6 L643.1 364.4 L649.5 353.1 L655.5 346.4 L662.9 331.4 L669.1 316.5 L676.2 304.9 L682.4 296.5 L688.2 289.9 L696 299 L701.8 305.7 L707.8 316.5 L715.3 338.9 L719.1 360 L728.7 384.9 L734.5 403.2 L740.7 423.2 L748.2 434.8 L754.3 443.1 L761.8 431.5 L767.8 425.7 L773.6 421.5 L781.1 406.5 L787.2 402.4 L793.4 414.9 L800.9 419 L806.9 419.8 L814.3 417.3 L820.2 408.2 L826.3 394.9 L833.5 384.9 L839.6 379.1 L845.8 376.6 L853.2 386.6 L859.2 389.9 L866.7 390.8 L870 391.5 L872.8 390.7 L878.6 383.2 L886.1 376.5 L892.1 369.1 L899.9 368.2 L905.7 368.2 L911.9 370.7 L919.4 383.2 L925.2 396.5 L931.2 405.6 L938.7 413.1 L944.8 421.1 L952.3 419.8 L958.1 411.4 L964.2 399.8 L971.7 394 L977.7 388.2 L983.9 386.5 L991.3 395.7 L997.5 404.8 L1004.6 410.6 L1010.8 407.3 L1016.8 405.6 L1024.3 406.5 L1030 407.4 L1038 418.2 L1043.8 429.9 L1049.9 438.2 L1057.4 446.5 L1063.2 453.1 L1069.4 459.8 L1076.9 466.4 L1082.9 470.6 L1090.2 474.7 L1096.2 480.6 L1102.3 478.9 L1109.8 473.1 L1115.9 468.1 L1121.8 458.1 L1129.4 449.8 L1135.1 446.5 L1143 444 L1148.8 439.8 L1154.7 437.3 L1162.1 434.9 L1168.3 429 L1175.9 419.9 L1181.8 419.1 L1187.6 418.2 L1195.1 414.1 L1201.2 413.2 L1207.4 414.9 L1214.8 413.2 L1220.8 414.9 L1228.1 414.9 L1234.5 412.4 L1240.3 406.6 L1246.1 396.6 L1249.9 387.9 L1253.7 378 L1259.8 363 L1267.3 354.7 L1273.5 343.1 L1281 332.3 L1286.8 328.1 L1292.8 323.9 L1300.2 306.5 L1306.4 283.2 L1313 256.6 L1318.8 240 L1322.3 227.9 L1333.4 194.7 L1339.2 179.7 L1345.2 166.4 L1353 146.5 L1358.8 133.2 L1366.3 136.5 L1372.1 136.5 L1378.4 136.5 L1385.8 146.5 L1391.7 158.1 L1397.9 153.1 L1405.4 142.3 L1411.2 139 L1418.7 134 L1424.8 121.6 L1431.1 109.1 L1438.3 115.7" fill="none" stroke="#ffffff" stroke-width="1.45" stroke-linejoin="round"/>
<path d="M5 113.1 L11.9 112.5 L18.1 110 L25.5 103.8 L31 100.6 L38.8 97.5 L44.8 93.8 L50.6 88.1 L57.9 82.5 L64.1 76.9 L71.6 73.1 L77.8 66.2 L84.5 61.9 L91.2 59 L97.2 58.1 L103.1 59.4 L110.6 60.6 L116.9 63.1 L124.1 66.2 L130.4 73.1 L136.5 78.8 L143.8 85.6 L146.6 90 L155.4 98.3 L163.2 104.1 L169.2 106.6 L176.8 109.1 L182.7 114.9 L188.7 116.3 L196.3 116.6 L202.1 119.1 L209.9 122.4 L215.9 133.2 L221.7 146.5 L229.2 161.5 L234.1 170 L241.2 185 L248.7 199.1 L254.9 213.2 L262.3 228.2 L268.2 243.1 L274.3 256.4 L281.8 268.1 L287.6 276.4 L293.9 284.7 L301.2 289.9 L307.3 293.2 L314.8 295.2 L320.8 295.2 L326.8 294 L334.2 294.9 L340.2 292.4 L347.7 292.4 L353.9 289.9 L359.7 287.4 L367.2 283.2 L373.3 279.9 L379.3 274.1 L386.3 267.5 L393.8 264.1 L399.9 261.6 L407.1 258.3 L413.4 254.7 L419.5 253 L425.7 253 L431.7 257.5 L440 269.1 L445.3 276.6 L452.8 284.9 L458.8 292.4 L464.9 295.7 L472.4 301.2 L478.6 306.5 L485.7 310.7 L491.9 315.7 L497.8 319.5 L505.3 321.8 L511.5 322.8 L517.3 325.7 L525.1 328.5 L530.9 332.3 L538.4 333.1 L544.4 332.8 L550.2 330.6 L557.7 328.2 L563.8 324.8 L569.7 324 L577.1 323.2 L583.3 324 L590.8 324.8 L596.7 327.3 L602.9 333.1 L610 339.8 L616.2 345.6 L623.7 350.6 L629.8 353.9 L635.8 357.2 L643.1 359.7 L649.5 358 L655.5 356.4 L662.9 349.7 L669.1 343.1 L676.2 333.1 L682.4 325.6 L688.2 319.8 L696 316.5 L701.8 313.2 L707.8 311.8 L715.3 321.5 L721.4 328.1 L728.1 341.4 L734.7 358 L737.4 360 L740.7 368.3 L748.2 386.6 L754.3 403.2 L761.8 409.9 L767.8 417.3 L773.6 424 L781.1 423.2 L787.2 422.8 L793.4 424 L800.9 423.2 L806.9 420.7 L814.3 416.5 L820.2 407.4 L826.3 404 L833.5 401.2 L839.6 399.1 L845.8 398.2 L853.2 397.4 L859.2 391.6 L866.7 388.3 L870 385.7 L872.8 384.9 L878.6 381.5 L886.1 380.2 L892.1 379.5 L899.9 379.5 L905.7 378.2 L911.9 378.2 L919.4 379 L925.2 382.4 L931.2 388.2 L938.7 391.5 L944.8 395.7 L952.3 399.8 L958.1 403.1 L964.2 403.1 L971.7 403.1 L977.7 403.1 L983.9 403.1 L991.3 403.1 L997.5 402.3 L1004.6 402.3 L1010.8 397.3 L1016.8 397.8 L1024.3 401.5 L1030 404.9 L1038 413.2 L1043.8 416.6 L1049.9 423.2 L1057.4 427.4 L1063.2 433.2 L1069.4 439.8 L1076.9 448.2 L1082.9 454.8 L1090.2 461.4 L1096.2 466.4 L1102.3 469.8 L1109.8 469.8 L1115.9 469.8 L1121.8 468.1 L1129.4 466.4 L1135.1 462.3 L1143 458.1 L1148.8 454.8 L1154.7 449 L1162.1 444 L1168.3 438.2 L1175.9 433.2 L1181.8 429.5 L1187.6 426.5 L1195.1 423.2 L1201.2 419.9 L1207.4 418.6 L1214.8 415.7 L1220.8 415.7 L1228.1 415.2 L1234.5 413.2 L1240.3 411.6 L1246.1 407.4 L1252.7 398.3 L1259.8 387.9 L1267.3 383 L1273.5 373 L1281 361.3 L1286.8 349.7 L1292.8 341.4 L1300.2 330.6 L1306.4 306.5 L1313 294.9 L1318.8 281.6 L1324.7 268.3 L1331.3 255 L1338.8 240 L1342.2 227.9 L1353 196.4 L1358.8 176.4 L1366.3 166.4 L1372.1 159.8 L1378.4 153.1 L1385.8 149 L1391.7 146.5 L1397.9 144 L1405.4 139.8 L1411.2 137.3 L1418.7 139 L1424.8 139 L1431.1 132.4 L1438.3 129.9" fill="none" stroke="#ffff00" stroke-width="1.45" stroke-linejoin="round"/>
<path d="M5 95.2 L11.9 97.5 L18.1 97.5 L25.5 97.5 L31 96.2 L38.8 95 L44.8 97.5 L50.6 97.5 L57.9 97.5 L64.1 95.6 L71.6 91.9 L77.8 88.8 L84.5 85.6 L91.2 81.9 L97.2 78.1 L103.1 77.2 L110.6 76.9 L116.9 75.6 L124.1 74.4 L130.4 75.6 L136.5 76.5 L143.8 76.5 L149.8 77.5 L155.6 78.8 L163.1 80 L169 81.9 L176.2 84.4 L182.3 90 L196.3 96.6 L209.9 104.1 L215.9 111.6 L221.7 121.6 L229.2 129.9 L235.2 138.2 L241.3 146.5 L249.7 158.2 L258.2 170 L268.2 181.6 L274.3 189.9 L281.8 199.9 L287.6 211.6 L293.9 221.5 L301.4 233.2 L307.2 239.8 L314.7 249.8 L320.8 258.1 L326.8 264.7 L334.3 268.1 L340.2 275.8 L347.7 279.9 L353.9 283.2 L359.7 285.7 L367.2 287.9 L373.3 287.4 L379.3 284.9 L386.3 283.2 L393.8 280.8 L399.9 278.3 L407.1 274.9 L413.4 272.4 L419.5 270.8 L425.7 269.6 L431.7 270.8 L440 275 L445.3 275.3 L452.8 276.3 L456.6 276.6 L464.9 278.6 L472.4 279.9 L478.6 279.9 L485.7 280.8 L491.9 284.9 L497.8 289.9 L505.3 293.2 L511.5 298.6 L517.3 304 L525.1 308.2 L530.9 312.4 L538.4 316.5 L544.4 319 L550.2 321.2 L557.7 322.3 L563.8 322.3 L569.7 322.8 L577.1 322.8 L583.3 324 L590.8 325.7 L596.7 328.2 L602.9 332.3 L610 336.5 L616.2 339.5 L623.7 340.6 L629.8 339.5 L635.8 340.1 L643.1 341.8 L649.5 341.1 L655.5 340.6 L662.9 339.4 L669.1 339.4 L676.2 338.1 L682.4 336.4 L688.2 334.4 L696 335.6 L701.8 335.6 L707.8 335.6 L715.3 338.9 L721.4 342.3 L728.1 345.6 L734.7 349.7 L741.4 353.1 L748 358 L754.7 363 L761.8 363 L767.7 363.9 L773.8 367.2 L781.3 371.3 L787.1 373.8 L790.6 379.9 L798 388.3 L806.9 397.4 L814.3 402.4 L820.2 404.9 L826.3 408.2 L833.5 409.9 L839.6 410.7 L845.8 409.5 L853.2 410.7 L859.2 408.2 L866.7 404.9 L870 403.1 L872.8 401.5 L878.6 397.3 L886.1 394 L892.1 392.3 L899.9 389.8 L905.7 389 L911.9 388.5 L919.4 387.3 L925.2 387.3 L931.2 386.8 L938.7 386.8 L944.8 388.5 L952.3 391.5 L958.1 391.5 L964.2 391.5 L971.7 391.8 L977.7 391.8 L983.9 391.5 L991.3 392.8 L997.5 394 L1004.6 395.7 L1010.8 396.5 L1016.8 398.2 L1024.3 401.5 L1030 404.9 L1038 409.9 L1043.8 411.6 L1049.9 413.2 L1057.4 414.1 L1063.2 417.4 L1069.4 419.9 L1076.9 422.4 L1082.9 423.2 L1090.2 428.2 L1096.2 434.9 L1102.3 440.7 L1109.8 442.3 L1115.9 444.8 L1121.8 446.5 L1129.4 447.8 L1135.1 449 L1143 452.3 L1148.8 452.3 L1154.7 454 L1162.1 454.5 L1168.3 454 L1175.9 451.5 L1181.8 449.8 L1187.6 448.5 L1195.1 445.7 L1201.2 442.3 L1207.4 438.2 L1214.8 434 L1220.8 430.7 L1228.1 428.2 L1234.5 424.9 L1240.3 420.7 L1246.1 415.7 L1252.7 409.9 L1259.4 405.8 L1267.7 403.3 L1276 395 L1283.1 387.9 L1292.8 379.6 L1300.2 373 L1306.4 361.3 L1313 349.7 L1318.8 341.4 L1324.7 330.6 L1331.3 319.8 L1338.8 306.5 L1344.6 291.5 L1350.4 278.2 L1356.2 264.9 L1362.1 254.1 L1370.4 240 L1377.1 227.9 L1385.8 216.3 L1391.7 208 L1397.9 199.7 L1405.4 188 L1411.2 179.7 L1418.7 168.1 L1424.8 156.5 L1431.1 148.2 L1436.9 144.8" fill="none" stroke="#ff00ff" stroke-width="1.45" stroke-linejoin="round"/>
<path d="M1239.9 243.7 L1249.9 246.6 L1259.8 250.3 L1273.5 255.3 L1286.8 259.1 L1300.2 261.3 L1313 262.1 L1324.7 262.6 L1338.8 264.1 L1350.4 264.9 L1362.1 265.8 L1376.2 267.4 L1391.2 268.6 L1406.1 269.6 L1421.1 270.8 L1432.7 271.2 L1436.9 273.2" fill="none" stroke="#00ff00" stroke-width="1.45" stroke-linejoin="round"/>
<rect x="4" y="670.6" width="3" height="35.2" fill="#000" stroke="#ff3232" stroke-width="1.4"/>
<rect x="9.7" y="675.7" width="4.7" height="30.1" fill="#54ffff"/>
<rect x="17.1" y="670.6" width="3" height="35.2" fill="#000" stroke="#ff3232" stroke-width="1.4"/>
<rect x="23.7" y="669.3" width="3" height="36.5" fill="#000" stroke="#ff3232" stroke-width="1.4"/>
<rect x="29.4" y="674" width="4.7" height="31.8" fill="#54ffff"/>
<rect x="36.9" y="674.3" width="3" height="31.5" fill="#000" stroke="#ff3232" stroke-width="1.4"/>
<rect x="42.6" y="672.4" width="4.7" height="33.4" fill="#54ffff"/>
<rect x="50" y="674.7" width="3" height="31.1" fill="#000" stroke="#ff3232" stroke-width="1.4"/>
<rect x="56.6" y="675.2" width="3" height="30.6" fill="#000" stroke="#ff3232" stroke-width="1.4"/>
<rect x="62.3" y="674" width="4.7" height="31.8" fill="#54ffff"/>
<rect x="68.9" y="677.4" width="4.7" height="28.4" fill="#54ffff"/>
<rect x="76.3" y="672.3" width="3" height="33.5" fill="#000" stroke="#ff3232" stroke-width="1.4"/>
<rect x="82.9" y="664.8" width="3" height="41" fill="#000" stroke="#ff3232" stroke-width="1.4"/>
<rect x="89.4" y="670.6" width="3" height="35.2" fill="#000" stroke="#ff3232" stroke-width="1.4"/>
<rect x="95.2" y="665.2" width="4.7" height="40.6" fill="#54ffff"/>
<rect x="101.7" y="674" width="4.7" height="31.8" fill="#54ffff"/>
<rect x="108.3" y="671.6" width="4.7" height="34.2" fill="#54ffff"/>
<rect x="114.9" y="672.4" width="4.7" height="33.4" fill="#54ffff"/>
<rect x="121.4" y="672.4" width="4.7" height="33.4" fill="#54ffff"/>
<rect x="128" y="666.9" width="4.7" height="38.9" fill="#54ffff"/>
<rect x="135.4" y="672.3" width="3" height="33.5" fill="#000" stroke="#ff3232" stroke-width="1.4"/>
<rect x="141.2" y="671.6" width="4.7" height="34.2" fill="#54ffff"/>
<rect x="148.6" y="676.9" width="3" height="28.9" fill="#000" stroke="#ff3232" stroke-width="1.4"/>
<rect x="155.2" y="676.9" width="3" height="28.9" fill="#000" stroke="#ff3232" stroke-width="1.4"/>
<rect x="161.7" y="676.9" width="3" height="28.9" fill="#000" stroke="#ff3232" stroke-width="1.4"/>
<rect x="167.5" y="675.2" width="4.7" height="30.6" fill="#54ffff"/>
<rect x="174" y="671.6" width="4.7" height="34.2" fill="#54ffff"/>
<rect x="180.6" y="677.4" width="4.7" height="28.4" fill="#54ffff"/>
<rect x="188" y="678.4" width="3" height="27.4" fill="#000" stroke="#ff3232" stroke-width="1.4"/>
<rect x="193.7" y="675.7" width="4.7" height="30.1" fill="#54ffff"/>
<rect x="201.2" y="677.7" width="3" height="28.1" fill="#000" stroke="#ff3232" stroke-width="1.4"/>
<rect x="206.9" y="669.9" width="4.7" height="35.9" fill="#54ffff"/>
<rect x="213.5" y="648.6" width="4.7" height="57.2" fill="#54ffff"/>
<rect x="220.9" y="669.8" width="3" height="36" fill="#000" stroke="#ff3232" stroke-width="1.4"/>
<rect x="226.6" y="666.6" width="4.7" height="39.2" fill="#54ffff"/>
<rect x="234" y="674.7" width="3" height="31.1" fill="#000" stroke="#ff3232" stroke-width="1.4"/>
<rect x="239.7" y="674" width="4.7" height="31.8" fill="#54ffff"/>
<rect x="247.2" y="674.7" width="3" height="31.1" fill="#000" stroke="#ff3232" stroke-width="1.4"/>
<rect x="252.9" y="673.6" width="4.7" height="32.2" fill="#54ffff"/>
<rect x="259.5" y="675.2" width="4.7" height="30.6" fill="#54ffff"/>
<rect x="266.9" y="676.4" width="3" height="29.4" fill="#000" stroke="#ff3232" stroke-width="1.4"/>
<rect x="272.6" y="671.6" width="4.7" height="34.2" fill="#54ffff"/>
<rect x="280" y="670.6" width="3" height="35.2" fill="#000" stroke="#ff3232" stroke-width="1.4"/>
<rect x="285.7" y="674" width="4.7" height="31.8" fill="#54ffff"/>
<rect x="292.3" y="674" width="4.7" height="31.8" fill="#54ffff"/>
<rect x="299.7" y="674.3" width="3" height="31.5" fill="#000" stroke="#ff3232" stroke-width="1.4"/>
<rect x="306.3" y="675.2" width="3" height="30.6" fill="#000" stroke="#ff3232" stroke-width="1.4"/>
<rect x="312.9" y="676.4" width="3" height="29.4" fill="#000" stroke="#ff3232" stroke-width="1.4"/>
<rect x="318.6" y="675.2" width="4.7" height="30.6" fill="#54ffff"/>
<rect x="326" y="669.3" width="3" height="36.5" fill="#000" stroke="#ff3232" stroke-width="1.4"/>
<rect x="331.8" y="675.2" width="4.7" height="30.6" fill="#54ffff"/>
<rect x="338.3" y="678.5" width="4.7" height="27.3" fill="#54ffff"/>
<rect x="344.9" y="678.5" width="4.7" height="27.3" fill="#54ffff"/>
<rect x="351.5" y="677.4" width="4.7" height="28.4" fill="#54ffff"/>
<rect x="358" y="677.4" width="4.7" height="28.4" fill="#54ffff"/>
<rect x="365.5" y="669.3" width="3" height="36.5" fill="#000" stroke="#ff3232" stroke-width="1.4"/>
<rect x="372" y="663.4" width="3" height="42.4" fill="#000" stroke="#ff3232" stroke-width="1.4"/>
<rect x="378.6" y="649.8" width="3" height="56" fill="#000" stroke="#ff3232" stroke-width="1.4"/>
<rect x="384.3" y="664.1" width="4.7" height="41.7" fill="#54ffff"/>
<rect x="390.9" y="664.1" width="4.7" height="41.7" fill="#54ffff"/>
<rect x="397.5" y="669.9" width="4.7" height="35.9" fill="#54ffff"/>
<rect x="404" y="667.4" width="4.7" height="38.4" fill="#54ffff"/>
<rect x="411.5" y="676.9" width="3" height="28.9" fill="#000" stroke="#ff3232" stroke-width="1.4"/>
<rect x="417.2" y="668.6" width="4.7" height="37.2" fill="#54ffff"/>
<rect x="423.8" y="662.4" width="4.7" height="43.4" fill="#54ffff"/>
<rect x="430.3" y="672.9" width="4.7" height="32.9" fill="#54ffff"/>
<rect x="436.9" y="672.9" width="4.7" height="32.9" fill="#54ffff"/>
<rect x="444.3" y="670.6" width="3" height="35.2" fill="#000" stroke="#ff3232" stroke-width="1.4"/>
<rect x="450" y="669.1" width="4.7" height="36.7" fill="#54ffff"/>
<rect x="457.5" y="668.1" width="3" height="37.7" fill="#000" stroke="#ff3232" stroke-width="1.4"/>
<rect x="464" y="675.2" width="3" height="30.6" fill="#000" stroke="#ff3232" stroke-width="1.4"/>
<rect x="470.6" y="673.9" width="3" height="31.9" fill="#000" stroke="#ff3232" stroke-width="1.4"/>
<rect x="477.2" y="678.1" width="3" height="27.7" fill="#000" stroke="#ff3232" stroke-width="1.4"/>
<rect x="482.9" y="675.7" width="4.7" height="30.1" fill="#54ffff"/>
<rect x="490.3" y="677.2" width="3" height="28.6" fill="#000" stroke="#ff3232" stroke-width="1.4"/>
<rect x="496" y="676.5" width="4.7" height="29.3" fill="#54ffff"/>
<rect x="503.5" y="678.9" width="3" height="26.9" fill="#000" stroke="#ff3232" stroke-width="1.4"/>
<rect x="510" y="677.7" width="3" height="28.1" fill="#000" stroke="#ff3232" stroke-width="1.4"/>
<rect x="515.8" y="681.5" width="4.7" height="24.3" fill="#54ffff"/>
<rect x="523.2" y="681.4" width="3" height="24.4" fill="#000" stroke="#ff3232" stroke-width="1.4"/>
<rect x="529.8" y="681.4" width="3" height="24.4" fill="#000" stroke="#ff3232" stroke-width="1.4"/>
<rect x="536.3" y="672.3" width="3" height="33.5" fill="#000" stroke="#ff3232" stroke-width="1.4"/>
<rect x="542.1" y="675.7" width="4.7" height="30.1" fill="#54ffff"/>
<rect x="548.6" y="679.9" width="4.7" height="25.9" fill="#54ffff"/>
<rect x="555.2" y="678.5" width="4.7" height="27.3" fill="#54ffff"/>
<rect x="561.8" y="678.5" width="4.7" height="27.3" fill="#54ffff"/>
<rect x="569.2" y="680.6" width="3" height="25.2" fill="#000" stroke="#ff3232" stroke-width="1.4"/>
<rect x="575.8" y="678.4" width="3" height="27.4" fill="#000" stroke="#ff3232" stroke-width="1.4"/>
<rect x="581.5" y="679.5" width="4.7" height="26.3" fill="#54ffff"/>
<rect x="588.1" y="679.5" width="4.7" height="26.3" fill="#54ffff"/>
<rect x="595.5" y="680.6" width="3" height="25.2" fill="#000" stroke="#ff3232" stroke-width="1.4"/>
<rect x="601.2" y="679.9" width="4.7" height="25.9" fill="#54ffff"/>
<rect x="607.8" y="679.9" width="4.7" height="25.9" fill="#54ffff"/>
<rect x="614.3" y="681.9" width="4.7" height="23.9" fill="#54ffff"/>
<rect x="621.8" y="682.6" width="3" height="23.2" fill="#000" stroke="#ff3232" stroke-width="1.4"/>
<rect x="627.5" y="680.7" width="4.7" height="25.1" fill="#54ffff"/>
<rect x="634.1" y="683.2" width="4.7" height="22.6" fill="#54ffff"/>
<rect x="641.5" y="676.9" width="3" height="28.9" fill="#000" stroke="#ff3232" stroke-width="1.4"/>
<rect x="648.1" y="670.6" width="3" height="35.2" fill="#000" stroke="#ff3232" stroke-width="1.4"/>
<rect x="653.8" y="678.2" width="4.7" height="27.6" fill="#54ffff"/>
<rect x="661.2" y="666.1" width="3" height="39.7" fill="#000" stroke="#ff3232" stroke-width="1.4"/>
<rect x="667.8" y="678.1" width="3" height="27.7" fill="#000" stroke="#ff3232" stroke-width="1.4"/>
<rect x="674.3" y="670.6" width="3" height="35.2" fill="#000" stroke="#ff3232" stroke-width="1.4"/>
<rect x="680.1" y="674" width="4.7" height="31.8" fill="#54ffff"/>
<rect x="687.5" y="673.1" width="3" height="32.7" fill="#000" stroke="#ff3232" stroke-width="1.4"/>
<rect x="693.2" y="668.2" width="4.7" height="37.6" fill="#54ffff"/>
<rect x="700.6" y="676.9" width="3" height="28.9" fill="#000" stroke="#ff3232" stroke-width="1.4"/>
<rect x="707.2" y="678.1" width="3" height="27.7" fill="#000" stroke="#ff3232" stroke-width="1.4"/>
<rect x="712.9" y="656.3" width="4.7" height="49.5" fill="#54ffff"/>
<rect x="720.3" y="663.4" width="3" height="42.4" fill="#000" stroke="#ff3232" stroke-width="1.4"/>
<rect x="726.1" y="675.7" width="4.7" height="30.1" fill="#54ffff"/>
<rect x="732.6" y="675.7" width="4.7" height="30.1" fill="#54ffff"/>
<rect x="739.2" y="672.4" width="4.7" height="33.4" fill="#54ffff"/>
<rect x="745.8" y="674" width="4.7" height="31.8" fill="#54ffff"/>
<rect x="753.2" y="669.8" width="3" height="36" fill="#000" stroke="#ff3232" stroke-width="1.4"/>
<rect x="759.8" y="654.5" width="3" height="51.3" fill="#000" stroke="#ff3232" stroke-width="1.4"/>
<rect x="765.5" y="660.8" width="4.7" height="45" fill="#54ffff"/>
<rect x="772.9" y="666.1" width="3" height="39.7" fill="#000" stroke="#ff3232" stroke-width="1.4"/>
<rect x="779.5" y="666.1" width="3" height="39.7" fill="#000" stroke="#ff3232" stroke-width="1.4"/>
<rect x="785.2" y="665.4" width="4.7" height="40.4" fill="#54ffff"/>
<rect x="791.8" y="671.2" width="4.7" height="34.6" fill="#54ffff"/>
<rect x="799.2" y="665.3" width="3" height="40.5" fill="#000" stroke="#ff3232" stroke-width="1.4"/>
<rect x="805.8" y="662" width="3" height="43.8" fill="#000" stroke="#ff3232" stroke-width="1.4"/>
<rect x="811.5" y="654.9" width="4.7" height="50.9" fill="#54ffff"/>
<rect x="818.9" y="650.1" width="3" height="55.7" fill="#000" stroke="#ff3232" stroke-width="1.4"/>
<rect x="824.6" y="658.6" width="4.7" height="47.2" fill="#54ffff"/>
<rect x="831.2" y="662.4" width="4.7" height="43.4" fill="#54ffff"/>
<rect x="837.8" y="661.2" width="4.7" height="44.5" fill="#54ffff"/>
<rect x="844.4" y="665.4" width="4.7" height="40.4" fill="#54ffff"/>
<rect x="850.9" y="666.6" width="4.7" height="39.2" fill="#54ffff"/>
<rect x="858.4" y="663.6" width="3" height="42.2" fill="#000" stroke="#ff3232" stroke-width="1.4"/>
<rect x="864.9" y="644" width="3" height="61.8" fill="#000" stroke="#ff3232" stroke-width="1.4"/>
<rect x="870.7" y="645.8" width="4.7" height="60" fill="#54ffff"/>
<rect x="878.1" y="654.8" width="3" height="51" fill="#000" stroke="#ff3232" stroke-width="1.4"/>
<rect x="884.6" y="647" width="3" height="58.8" fill="#000" stroke="#ff3232" stroke-width="1.4"/>
<rect x="891.2" y="649" width="3" height="56.8" fill="#000" stroke="#ff3232" stroke-width="1.4"/>
<rect x="896.9" y="651.6" width="4.7" height="54.2" fill="#54ffff"/>
<rect x="904.4" y="660.3" width="3" height="45.5" fill="#000" stroke="#ff3232" stroke-width="1.4"/>
<rect x="910.1" y="668.2" width="4.7" height="37.6" fill="#54ffff"/>
<rect x="916.7" y="656.6" width="4.7" height="49.2" fill="#54ffff"/>
<rect x="923.2" y="671.2" width="4.7" height="34.6" fill="#54ffff"/>
<rect x="929.8" y="674" width="4.7" height="31.8" fill="#54ffff"/>
<rect x="937.2" y="670.6" width="3" height="35.2" fill="#000" stroke="#ff3232" stroke-width="1.4"/>
<rect x="942.9" y="665.4" width="4.7" height="40.4" fill="#54ffff"/>
<rect x="950.4" y="670.6" width="3" height="35.2" fill="#000" stroke="#ff3232" stroke-width="1.4"/>
<rect x="956.9" y="654.5" width="3" height="51.3" fill="#000" stroke="#ff3232" stroke-width="1.4"/>
<rect x="963.5" y="665.9" width="3" height="39.9" fill="#000" stroke="#ff3232" stroke-width="1.4"/>
<rect x="970.1" y="668.1" width="3" height="37.7" fill="#000" stroke="#ff3232" stroke-width="1.4"/>
<rect x="975.8" y="669.6" width="4.7" height="36.2" fill="#54ffff"/>
<rect x="982.4" y="677.4" width="4.7" height="28.4" fill="#54ffff"/>
<rect x="988.9" y="677.4" width="4.7" height="28.4" fill="#54ffff"/>
<rect x="996.4" y="681.4" width="3" height="24.4" fill="#000" stroke="#ff3232" stroke-width="1.4"/>
<rect x="1002.1" y="678.2" width="4.7" height="27.6" fill="#54ffff"/>
<rect x="1009.5" y="669.3" width="3" height="36.5" fill="#000" stroke="#ff3232" stroke-width="1.4"/>
<rect x="1015.2" y="668.6" width="4.7" height="37.2" fill="#54ffff"/>
<rect x="1022.7" y="675.6" width="3" height="30.2" fill="#000" stroke="#ff3232" stroke-width="1.4"/>
<rect x="1028.4" y="674" width="4.7" height="31.8" fill="#54ffff"/>
<rect x="1035" y="678.5" width="4.7" height="27.3" fill="#54ffff"/>
<rect x="1041.5" y="676.2" width="4.7" height="29.6" fill="#54ffff"/>
<rect x="1048.1" y="676.5" width="4.7" height="29.3" fill="#54ffff"/>
<rect x="1055.5" y="681.4" width="3" height="24.4" fill="#000" stroke="#ff3232" stroke-width="1.4"/>
<rect x="1062.1" y="670.6" width="3" height="35.2" fill="#000" stroke="#ff3232" stroke-width="1.4"/>
<rect x="1067.8" y="676.5" width="4.7" height="29.3" fill="#54ffff"/>
<rect x="1074.4" y="671.6" width="4.7" height="34.2" fill="#54ffff"/>
<rect x="1081.8" y="677.2" width="3" height="28.6" fill="#000" stroke="#ff3232" stroke-width="1.4"/>
<rect x="1087.5" y="676.5" width="4.7" height="29.3" fill="#54ffff"/>
<rect x="1095" y="675.6" width="3" height="30.2" fill="#000" stroke="#ff3232" stroke-width="1.4"/>
<rect x="1101.5" y="664.8" width="3" height="41" fill="#000" stroke="#ff3232" stroke-width="1.4"/>
<rect x="1108.1" y="661.8" width="3" height="44" fill="#000" stroke="#ff3232" stroke-width="1.4"/>
<rect x="1113.8" y="665.2" width="4.7" height="40.6" fill="#54ffff"/>
<rect x="1121.2" y="658.6" width="3" height="47.2" fill="#000" stroke="#ff3232" stroke-width="1.4"/>
<rect x="1127" y="665.2" width="4.7" height="40.6" fill="#54ffff"/>
<rect x="1134.4" y="669.8" width="3" height="36" fill="#000" stroke="#ff3232" stroke-width="1.4"/>
<rect x="1140.1" y="669.1" width="4.7" height="36.7" fill="#54ffff"/>
<rect x="1147.5" y="667.6" width="3" height="38.2" fill="#000" stroke="#ff3232" stroke-width="1.4"/>
<rect x="1154.1" y="668.9" width="3" height="36.9" fill="#000" stroke="#ff3232" stroke-width="1.4"/>
<rect x="1159.8" y="667.4" width="4.7" height="38.4" fill="#54ffff"/>
<rect x="1167.2" y="658.6" width="3" height="47.2" fill="#000" stroke="#ff3232" stroke-width="1.4"/>
<rect x="1173.8" y="666.4" width="3" height="39.4" fill="#000" stroke="#ff3232" stroke-width="1.4"/>
<rect x="1179.5" y="665.5" width="4.7" height="40.3" fill="#54ffff"/>
<rect x="1187" y="673.8" width="3" height="32" fill="#000" stroke="#ff3232" stroke-width="1.4"/>
<rect x="1193.5" y="668" width="3" height="37.8" fill="#000" stroke="#ff3232" stroke-width="1.4"/>
<rect x="1200.1" y="667.1" width="3" height="38.7" fill="#000" stroke="#ff3232" stroke-width="1.4"/>
<rect x="1205.8" y="669.1" width="4.7" height="36.7" fill="#54ffff"/>
<rect x="1213.2" y="669.5" width="3" height="36.3" fill="#000" stroke="#ff3232" stroke-width="1.4"/>
<rect x="1219" y="674.6" width="4.7" height="31.2" fill="#54ffff"/>
<rect x="1226.4" y="669.5" width="3" height="36.3" fill="#000" stroke="#ff3232" stroke-width="1.4"/>
<rect x="1233" y="673.8" width="3" height="32" fill="#000" stroke="#ff3232" stroke-width="1.4"/>
<rect x="1239.5" y="668" width="3" height="37.8" fill="#000" stroke="#ff3232" stroke-width="1.4"/>
<rect x="1246.1" y="660.3" width="3" height="45.5" fill="#000" stroke="#ff3232" stroke-width="1.4"/>
<rect x="1252.7" y="645.6" width="3" height="60.2" fill="#000" stroke="#ff3232" stroke-width="1.4"/>
<rect x="1259.3" y="657.4" width="3" height="48.4" fill="#000" stroke="#ff3232" stroke-width="1.4"/>
<rect x="1265" y="658.2" width="4.7" height="47.6" fill="#54ffff"/>
<rect x="1272.4" y="642.5" width="3" height="63.3" fill="#000" stroke="#ff3232" stroke-width="1.4"/>
<rect x="1278.1" y="634.1" width="4.7" height="71.7" fill="#54ffff"/>
<rect x="1285.5" y="645.6" width="3" height="60.2" fill="#000" stroke="#ff3232" stroke-width="1.4"/>
<rect x="1291.3" y="631.2" width="4.7" height="74.6" fill="#54ffff"/>
<rect x="1298.7" y="631.9" width="3" height="73.9" fill="#000" stroke="#ff3232" stroke-width="1.4"/>
<rect x="1305.3" y="576.4" width="3" height="129.4" fill="#000" stroke="#ff3232" stroke-width="1.4"/>
<rect x="1311" y="566.6" width="4.7" height="139.2" fill="#54ffff"/>
<rect x="1318.4" y="590.1" width="3" height="115.7" fill="#000" stroke="#ff3232" stroke-width="1.4"/>
<rect x="1324.1" y="620.8" width="4.7" height="85" fill="#54ffff"/>
<rect x="1331.5" y="621.5" width="3" height="84.3" fill="#000" stroke="#ff3232" stroke-width="1.4"/>
<rect x="1338.1" y="576.4" width="3" height="129.4" fill="#000" stroke="#ff3232" stroke-width="1.4"/>
<rect x="1344.7" y="603.2" width="3" height="102.6" fill="#000" stroke="#ff3232" stroke-width="1.4"/>
<rect x="1351.3" y="570.4" width="3" height="135.4" fill="#000" stroke="#ff3232" stroke-width="1.4"/>
<rect x="1357.8" y="563.1" width="3" height="142.7" fill="#000" stroke="#ff3232" stroke-width="1.4"/>
<rect x="1363.6" y="563.7" width="4.7" height="142.1" fill="#54ffff"/>
<rect x="1371" y="601.9" width="3" height="103.9" fill="#000" stroke="#ff3232" stroke-width="1.4"/>
<rect x="1377.5" y="581.3" width="3" height="124.5" fill="#000" stroke="#ff3232" stroke-width="1.4"/>
<rect x="1383.3" y="593.4" width="4.7" height="112.4" fill="#54ffff"/>
<rect x="1389.8" y="612.9" width="4.7" height="92.9" fill="#54ffff"/>
<rect x="1397.3" y="623.3" width="3" height="82.5" fill="#000" stroke="#ff3232" stroke-width="1.4"/>
<rect x="1403.8" y="608.3" width="3" height="97.5" fill="#000" stroke="#ff3232" stroke-width="1.4"/>
<rect x="1409.6" y="618.9" width="4.7" height="86.9" fill="#54ffff"/>
<rect x="1417" y="618.4" width="3" height="87.4" fill="#000" stroke="#ff3232" stroke-width="1.4"/>
<rect x="1423.6" y="605" width="3" height="100.8" fill="#000" stroke="#ff3232" stroke-width="1.4"/>
<rect x="1430.1" y="616.9" width="3" height="88.9" fill="#000" stroke="#ff3232" stroke-width="1.4"/>
<rect x="1435.8" y="611.3" width="4.7" height="94.5" fill="#54ffff"/>
<path d="M5.8 671.6 L11.6 673.6 L18.3 673.6 L25.3 672.4 L31.6 672.4 L38.2 673.6 L44.9 672.4 L51 673.6 L58.2 673.6 L64.5 674 L71.5 674.9 L77.6 673.6 L83.9 671.6 L91.1 671.2 L97.2 669.9 L103.4 669.1 L110.5 670.2 L116.9 671.6 L123.8 671.9 L130.2 671.6 L136.3 671.6 L143.3 671.6 L149.6 672.4 L156.2 673.6 L163.2 674.9 L169.2 674.9 L176.5 674.9 L182.8 674.9 L189 674.9 L196.1 675.2 L202.3 676.5 L209.4 676.2 L215.8 670.7 L221.9 669.1 L229.1 665.7 L235.2 665.7 L241.3 669.1 L248.5 672.4 L254.6 673.6 L261.8 674.9 L268.4 674.9 L274.6 672.9 L281.7 673.6 L287.5 674 L293.8 673.6 L301.2 671.9 L307.5 673.6 L314.5 674.9 L320.8 674.9 L326.9 674 L334.1 674.9 L340.4 675.7 L347.4 675.7 L353.7 676.5 L359.8 678.2 L367.3 676.2 L373.1 672.4 L379.3 667.4 L386.8 664.1 L392.7 661.2 L399.7 661.2 L406.4 663.2 L412.5 668.6 L419.7 669.1 L425.8 668.6 L432.1 670.7 L439.1 670.7 L445.1 669.9 L452.6 669.9 L458.7 669.9 L465.1 669.9 L472 670.7 L478.6 673.6 L485.6 674.9 L491.9 676.2 L498.1 676.5 L505.2 678.2 L511.6 676.2 L517.7 677.9 L524.9 679.5 L531 679.5 L538.2 679 L544.3 678.2 L550.5 678.2 L557.6 678.2 L563.9 678.2 L570.1 679.5 L577.1 679.5 L583.4 679.5 L590.8 679.5 L596.7 679.5 L603 679.9 L610 679.9 L616.3 680.7 L623.3 680.7 L629.6 680.7 L636.1 681.2 L643.2 680.7 L649.4 678.2 L655.7 678.2 L662.7 674.5 L669 673.6 L676.1 673.6 L682.3 673.6 L688.6 671.6 L695.6 671.6 L701.9 671.9 L708 672.9 L715.3 669.9 L721.3 669.1 L728.4 670.7 L734.6 670.7 L740.7 669.1 L748.2 671.2 L754.5 673.6 L761.5 669.1 L767.5 665.7 L773.7 664.6 L780.8 662.9 L787.3 662.9 L793.3 665.2 L800.8 667.4 L806.6 665.7 L814.1 663.2 L820.2 659.9 L826.4 658.3 L833.5 658.3 L839.8 658.3 L846 660.3 L853.4 664.1 L859.3 664.1 L866.7 659.9 L872.6 656.6 L878.9 654.9 L886.2 649.9 L892.5 647.5 L899.5 649.1 L905.8 651.6 L911.6 654.9 L919.1 657.4 L925.3 663.2 L931.6 667.4 L938.7 669.1 L944.9 669.1 L951.8 670.2 L958.1 667.4 L964.4 664.6 L971.8 664.6 L977.7 665.7 L983.9 669.1 L991 671.6 L997.2 674.5 L1004.7 677.4 L1010.8 676.2 L1016.8 674.5 L1024.1 674.9 L1030.1 673.6 L1037.6 673.6 L1043.7 674.9 L1049.9 676.2 L1057 677.4 L1063.2 675.7 L1069.2 676.2 L1076.6 676.2 L1082.8 676.5 L1089.9 674.9 L1095.6 675.7 L1102.2 673.6 L1109.7 670.2 L1115.7 667.4 L1121.9 664.6 L1129 662.9 L1135.2 664.1 L1142.6 665.7 L1148.5 666.6 L1155.1 667.4 L1161.8 667.4 L1168.1 664.9 L1175.4 664.9 L1181.8 665.5 L1188.4 666.4 L1195 666.4 L1201.5 667.3 L1208.1 668.8 L1214.7 669.1 L1221.2 669.1 L1227.8 669.1 L1234.4 670.6 L1240.9 670.6 L1247.5 669.1 L1254.1 663.6 L1260.6 660 L1267.2 657.3 L1273.8 650.9 L1280.3 646.9 L1286.9 645.4 L1293.5 640.8 L1300.1 637.2 L1306.6 623.5 L1313.2 610.7 L1319.8 598.3 L1326.3 597.1 L1332.9 594.3 L1339.5 594.3 L1346 601.2 L1352.6 598.3 L1359.2 587 L1365.7 574.2 L1372.3 578.8 L1378.9 575.7 L1385.4 579.4 L1392 594.3 L1398.6 603.1 L1405.1 603.8 L1411.7 612.9 L1418.3 615.8 L1424.8 614 L1431.4 614 L1438 613.5" fill="none" stroke="#ffffff" stroke-width="1.45" stroke-linejoin="round"/>
<path d="M5.8 670.4 L18.3 671.2 L31.6 671.9 L44.9 671.9 L51 673.6 L64.5 673.6 L77.6 672.9 L83.9 671.9 L97.2 671.6 L110.5 671.6 L123.8 671.6 L136.3 670.2 L146.3 670.2 L156.2 671.9 L163.2 673.6 L176.5 673.6 L182.8 673.6 L189 674.5 L202.3 675.2 L209.4 674 L215.8 671.6 L229.1 670.2 L235.2 670.2 L241.3 670.2 L248.5 670.7 L261.8 670.7 L274.6 670.7 L281.7 673.6 L293.8 673.6 L307.5 673.6 L320.8 673.6 L334.1 673.6 L342.4 674 L347.4 674.9 L359.8 674.9 L367.3 674.5 L373.1 673.6 L379.3 671.2 L386.8 669.9 L392.7 669.1 L399.7 669.1 L406.4 667.9 L412.5 667.9 L419.7 667.4 L425.8 665.7 L432.1 665.7 L439.1 667.9 L445.1 669.1 L452.6 669.1 L458.7 669.9 L465.1 669.9 L472 669.9 L478.6 669.9 L485.6 671.6 L491.9 673.6 L498.1 673.6 L505.2 673.6 L511.6 674.5 L517.7 676.5 L524.9 678.2 L531 678.2 L538.2 678.2 L544.3 678.2 L550.5 678.2 L557.6 678.2 L563.9 678.2 L570.1 679.5 L577.1 678.5 L583.4 678.2 L590.8 678.2 L596.7 678.2 L603 679.5 L610 679.5 L616.3 679.5 L623.3 679.5 L629.6 679.5 L636.1 681.2 L643.2 681.2 L649.4 679.9 L655.7 679.5 L662.7 678.2 L669 678.2 L676.1 676.5 L682.3 676.5 L688.6 674.5 L695.6 673.6 L701.9 673.6 L708 673.6 L715.3 671.6 L721.3 671.6 L728.4 672.4 L734.6 672.4 L740.7 671.9 L748.2 671.6 L754.5 669.9 L761.5 668.6 L767.5 666.9 L773.7 666.9 L780.8 667.4 L787.3 667.4 L793.3 666.9 L800.8 665.7 L806.6 665.7 L814.1 663.2 L820.2 661.6 L826.4 661.2 L833.5 662.9 L839.8 661.2 L846 661.2 L853.4 663.2 L859.3 661.6 L866.7 659.6 L872.6 658.3 L878.9 658.3 L886.2 656.9 L892.5 656.9 L899.5 655.8 L905.8 655.8 L911.6 654.9 L919.1 654.1 L925.3 655.8 L931.6 658.3 L938.7 659.9 L944.9 661.6 L951.8 664.6 L958.1 665.2 L964.4 665.7 L971.8 667.4 L977.7 666.9 L983.9 668.6 L991 669.1 L997.2 669.9 L1004.7 669.9 L1010.8 669.9 L1016.8 670.7 L1024.1 673.6 L1030.1 674.9 L1037.6 674.9 L1043.7 676.2 L1049.9 676.2 L1057 675.7 L1063.2 674.9 L1069.2 674.5 L1076.6 674.9 L1082.8 676.2 L1089.9 676.2 L1095.6 676.2 L1102.2 674.9 L1109.7 673.6 L1115.7 671.6 L1121.9 670.7 L1129 669.1 L1135.2 669.1 L1142.6 669.1 L1148.5 667.4 L1155.1 665.7 L1161.8 665.7 L1168.1 664.9 L1175.4 665.7 L1181.8 666.4 L1188.4 667.3 L1201.5 667.3 L1214.7 667.7 L1227.8 667.7 L1234.4 669.1 L1240.9 669.1 L1247.5 668.8 L1254.1 665.5 L1260.6 665.1 L1267.2 664.6 L1273.8 660.9 L1280.3 658.2 L1286.9 654.5 L1293.5 650 L1300.1 646.3 L1306.6 637.2 L1313.2 629 L1319.8 621.7 L1326.3 618.4 L1332.9 614.4 L1339.5 608.9 L1346 606.2 L1352.6 599.8 L1359.2 590.7 L1365.7 584.8 L1372.3 586.7 L1378.9 588.5 L1385.4 589.4 L1392 587.9 L1398.6 587.9 L1405.1 590.7 L1411.7 594.3 L1418.3 598.9 L1424.8 603.8 L1431.4 607.6 L1438 609.5" fill="none" stroke="#ffff00" stroke-width="1.45" stroke-linejoin="round"/>
<path d="M5.5 812.8 L12 811 L18.7 790.8 L25.2 781.1 L31.7 774.9 L38.8 770.5 L44.9 769.1 L51.4 767 L58.1 763.1 L64.6 769.1 L71.3 778.4 L77.9 769.6 L84.6 767.3 L91.1 767 L97.8 788.1 L103.9 807.5 L110.1 820.7 L117.1 828.6 L123.8 837.5 L130.4 846.3 L136.5 840.1 L143.6 840.1 L149.7 835.7 L156.8 823.4 L162.9 813.7 L169.5 807.5 L176.1 816.3 L182.7 826.9 L189.4 821.6 L195.5 828.6 L202.6 836.6 L209.6 840.1 L215.8 842.7 L221.9 843.6 L229 848.9 L235.2 845.4 L241.7 847.1 L248.4 847.7 L256.2 851.5 L262.3 854.2 L268.5 844.5 L274.7 846.3 L281.7 841.3 L287.3 841.3 L294 845.4 L301.1 841.3 L306.4 823.4 L310.8 809.3 L315.2 802.2 L320.5 804 L327.5 788.1 L334.6 781.1 L340.7 780.2 L346.9 782.8 L353.9 785 L359.7 804 L366.3 795.2 L371.5 784.6 L378.6 776.2 L386.5 771.4 L392.7 771.9 L399.7 775.8 L406.8 781.1 L412.9 781.4 L419.1 791.7 L425.3 807.5 L431.4 824.2 L439.4 833.9 L445.5 829.5 L453.5 831.3 L458.7 824.2 L464.9 819.8 L471.9 817.2 L478.6 807.5 L485.2 815.4 L491.3 824.2 L498 835.7 L505.3 833.9 L511.4 825.1 L517.6 821.6 L524.7 817.2 L531.7 811.9 L537.9 795.2 L544 783.7 L550.2 780.2 L556.4 784.6 L560.8 793.4 L565.2 804 L570.1 811 L577.5 807.5 L583.7 821.6 L590.7 832.2 L596.9 834.8 L603 843.6 L609.2 847.1 L616.3 848.9 L623.3 840.1 L630 835.7 L635.6 842.7 L640.9 833.9 L646.2 816.3 L649.7 804 L656.8 793.4 L663.3 782.8 L669.1 776.7 L676.1 773.2 L682.3 774.9 L688.5 770.2 L693.8 781.1 L700.8 800.5 L707.9 816.3 L714.9 828.6 L721.1 832.2 L728.1 838.3 L735.2 844.5 L741.3 847.1 L748 850.7 L754.4 839.2 L757.9 829.5 L762.3 821.6 L767.6 812.8 L773.8 804.9 L780.8 801.3 L787 797.8 L792.3 803.1 L801.1 804.9 L806.4 799.6 L814.3 801.3 L819.6 788.1 L825.7 779.3 L834.6 775.8 L840.7 776.7 L846.9 778.4 L852.2 788.1 L859.2 792.5 L866.3 789 L873.3 796.9 L878.6 786.4 L885.6 782 L892.3 772.3 L898.8 782 L905 790.8 L912.1 799.6 L917.3 814.6 L922.6 826.9 L931.4 840.1 L938.5 836.6 L944.6 845.4 L951.7 841.9 L954.3 833.9 L957.9 816.3 L964 796.9 L971.6 787.2 L977.2 796.1 L984.3 804 L991.3 812.8 L997.5 817.2 L1005.3 817.2 L1010.6 810.1 L1016.7 820.7 L1022.9 823.4 L1029.9 832.2 L1037.9 840.1 L1044 842.7 L1049.3 845.4 L1056.4 843.6 L1063.4 841 L1069.6 841 L1075.7 842.7 L1082.8 841 L1089.8 845.4 L1096.5 847.1 L1100.4 828.6 L1105.7 809.3 L1111 796.9 L1115.7 789.9 L1123.3 787.2 L1130 787.2 L1135.6 781.1 L1142.3 782.8 L1148.8 774.9 L1155 768.8 L1161.7 776.7 L1168.2 771.4 L1175.8 769.1 L1181.4 780.2 L1187.6 787.2 L1193.8 789 L1201.2 785.5 L1207.9 792.5 L1214 795.2 L1221.1 811 L1227.9 816.3 L1233.2 801.3 L1238.5 786.4 L1245.5 777.6 L1254.3 769.6 L1260.5 767.3 L1267.2 773.7 L1273.7 767.9 L1280.8 767.9 L1286.9 767.9 L1292.6 772.3 L1299.3 766.1 L1306.3 763.1 L1312.5 764.3 L1318.6 767.3 L1325.7 771.4 L1332.7 766.1 L1339.8 769.1 L1345.9 767.9 L1353 763.5 L1359.2 763.5 L1364.4 786.4 L1372.4 795.2 L1378.5 795.2 L1385.6 798.7 L1391.7 814.6 L1397.9 819 L1404.1 805.7 L1411.1 796.1 L1417.3 789.9 L1424.3 782.8 L1431 777.6 L1435.8 782.8 L1439 789.9" fill="none" stroke="#ffffff" stroke-width="1.45" stroke-linejoin="round"/>
<path d="M5.5 819.5 L12 817.2 L18.7 807.5 L25.2 798.7 L31.7 790.8 L38.8 783.7 L44.9 778.4 L51.4 774.9 L58.1 771.9 L64.6 770.5 L71.3 773.2 L77.9 772.3 L84.6 770.9 L91.1 769.1 L97.8 774.9 L103.9 786.4 L110.1 796.9 L117.1 808.4 L123.8 817.2 L130.4 826.5 L136.5 830.8 L143.6 833.9 L149.7 835.3 L156.8 831.3 L162.9 826.5 L169.5 820.7 L176.1 819 L182.7 821.6 L189.4 821.6 L195.5 824.2 L202.6 829.5 L209.6 832.2 L215.8 835.3 L221.9 838.3 L229 841.3 L235.2 842.4 L241.7 844.1 L248.4 845.4 L256.2 847.7 L262.3 849.8 L268.5 847.7 L274.7 847.7 L281.7 845.4 L287.3 844.5 L294 844.5 L301.1 842.7 L306.4 835.7 L313.4 826.9 L320.5 817.2 L327.5 808.4 L334.6 799.6 L340.7 792 L346.9 789 L353.9 788.5 L359.7 793.4 L366.3 793.4 L371.5 791.3 L378.6 785 L386.5 780.2 L392.7 777.6 L399.7 776.7 L406.8 777.9 L412.9 778.4 L419.1 782.5 L425.3 791.7 L431.4 803.1 L439.4 812.8 L445.5 818.1 L453.5 821.6 L458.7 822.5 L464.9 821.6 L471.9 820.2 L478.6 816.3 L485.2 815.4 L491.3 818.1 L498 823.4 L505.3 826.5 L511.4 826 L517.6 825.1 L524.7 822.5 L531.7 819 L537.9 811 L544 802.2 L550.2 795.2 L556.4 791.7 L560.8 793.4 L565.2 796.9 L570.1 799.6 L577.5 802.6 L583.7 809.3 L590.7 817.2 L596.9 823.4 L603 830.4 L609.2 834.8 L616.3 840.1 L623.3 840.1 L630 838.3 L635.6 840.1 L640.9 837.5 L646.2 830.4 L649.7 825.1 L656.8 814.6 L663.3 805.7 L669.1 796.9 L676.1 789.9 L682.3 785.5 L688.5 780.2 L693.8 781.1 L700.8 787.2 L707.9 797.8 L714.9 807.5 L721.1 816.3 L728.1 823.4 L735.2 831.3 L741.3 835.7 L748 840.1 L754.4 839.2 L757.9 836.6 L762.3 832.2 L767.6 826 L773.8 819.8 L780.8 814.6 L787 808.9 L792.3 806.6 L801.1 806.6 L806.4 804 L814.3 804 L819.6 798.7 L825.7 791.7 L834.6 786.4 L840.7 782.8 L846.9 781.4 L852.2 784.6 L859.2 787.2 L866.3 787.8 L873.3 790.8 L878.6 789.5 L885.6 786.4 L892.3 782 L898.8 782 L905 785 L912.1 790.8 L920.9 801.3 L926.1 812.8 L931.4 820.7 L938.5 824.2 L944.6 831.3 L951.7 834.8 L954.3 833 L957.9 827.8 L964 817.2 L971.6 807.5 L977.2 804 L984.3 804.9 L991.3 807.5 L997.5 810.1 L1005.3 812.8 L1010.6 811.9 L1016.7 814.6 L1022.9 817.2 L1029.9 822.5 L1037.9 828.6 L1044 833 L1049.3 836.6 L1056.4 838.9 L1063.4 840.6 L1069.6 841 L1075.7 841.3 L1082.8 841.3 L1089.8 842.7 L1096.5 844.5 L1102.2 835.7 L1109.2 825.1 L1115.7 814.6 L1123.3 804 L1130 798.7 L1135.6 793.4 L1142.3 790.8 L1148.8 786.4 L1155 780.2 L1161.7 777.9 L1168.2 776.7 L1175.8 773.2 L1181.4 776.7 L1187.6 779.3 L1193.8 782.5 L1201.2 782.8 L1207.9 786.4 L1214 789.9 L1221.1 797.8 L1227.9 802.2 L1233.2 802.6 L1238.5 796.9 L1245.5 791.7 L1254.3 783.7 L1260.5 778.4 L1267.2 776.7 L1273.7 774 L1280.8 772.3 L1286.9 770.9 L1292.6 771.4 L1299.3 769.6 L1306.3 767.3 L1312.5 766.6 L1318.6 767.3 L1325.7 767.9 L1332.7 767.3 L1339.8 767.9 L1345.9 767.9 L1353 766.1 L1359.2 766.1 L1364.4 772.3 L1372.4 782 L1378.5 786.4 L1385.6 790.8 L1391.7 799.6 L1397.9 805.7 L1404.1 805.7 L1411.1 802.2 L1417.3 799.6 L1424.3 792.5 L1431 787.2 L1435.8 788.1 L1439 790.8" fill="none" stroke="#ffff00" stroke-width="1.45" stroke-linejoin="round"/>
<path d="M5.5 799.6 L12 801.3 L15 777.6 L18.7 759.1 L25.2 747.6 L31.7 745 L38.8 740.9 L44.9 749.7 L51.4 752 L58.1 748 L64.6 767.9 L71.3 787.8 L77.9 766.1 L84.6 763.5 L91.1 760.3 L94.2 788.1 L97.8 814.6 L101.3 842.7 L107.5 861.2 L111 868.3 L117.1 870.9 L123.8 876.2 L130.4 881.8 L134.8 861.2 L139.2 855.9 L143.6 851.5 L149.7 838.3 L153.2 823.4 L156.8 807.5 L162.9 793.4 L169.5 785 L176.1 811 L182.7 835.7 L189.4 820.2 L195.5 839.2 L202.6 851.5 L209.6 858.2 L215.8 855.9 L221.9 853.3 L229 862.1 L235.2 850.1 L241.7 854.2 L248.4 850.7 L256.2 858.6 L262.3 862.1 L268.5 840.1 L274.7 846.3 L281.7 833.9 L287.3 835.7 L294 848.9 L301.1 835.7 L304.6 807.5 L309 779.3 L314.8 760.8 L321.3 776.2 L327.5 752 L334.6 745.5 L340.7 756.4 L346.9 767 L353.9 782.8 L359.7 825.1 L366.3 795.2 L371.5 771.4 L378.6 756.4 L386.5 751.5 L392.7 763.5 L399.7 773.2 L406.8 782.5 L412.9 783.7 L419.1 804 L424.4 832.2 L431.4 862.1 L439.4 877.1 L445.5 851.5 L453.5 847.7 L458.7 826 L464.9 812.8 L471.9 811 L478.6 789.5 L485.2 811 L491.3 833.9 L498 857.7 L505.3 842.7 L511.4 820.7 L517.6 816.3 L524.7 807.5 L531.7 798.7 L537.9 759.1 L544 750.3 L550.2 751.1 L556.4 768.8 L560.8 789.9 L565.2 814.6 L570.1 832.2 L577.5 816.3 L583.7 846.3 L590.7 863.9 L596.9 862.1 L603 872.7 L609.2 869.2 L616.3 865.6 L623.3 841 L630 833 L635.6 848 L640.9 819.8 L646.2 781.1 L649.7 767 L656.8 749.4 L663.3 737.9 L669.1 741.4 L676.1 745.9 L682.3 755.5 L688.5 750.3 L693.8 784.6 L700.8 828.6 L707.9 853.3 L714.9 870 L721.1 862.1 L728.1 866.5 L735.2 872.7 L741.3 865.6 L748 870.9 L754.4 839.2 L757.9 818.1 L762.3 798.7 L767.6 786.4 L773.8 775.4 L780.8 772.3 L787 774.9 L792.3 796.9 L801.1 802.2 L806.4 791.7 L814.3 795.5 L819.6 767 L825.7 752.9 L834.6 752.9 L840.7 765.2 L846.9 777.6 L852.2 796.9 L859.2 804 L866.3 791.7 L873.3 808.4 L878.6 779.3 L885.6 771.4 L892.3 754.7 L898.8 784.6 L905 800.5 L912.1 814.6 L915.6 835.7 L920.9 860.4 L926.1 872.7 L931.4 879.4 L938.5 859.5 L944.6 869.2 L951.7 855.1 L954.3 832.2 L957.9 789.9 L964 752 L971.6 748.5 L977.2 775.8 L984.3 802.2 L991.3 823.4 L997.5 831.3 L1005.3 826 L1010.6 804.9 L1016.7 830.4 L1022.9 835.7 L1029.9 851.5 L1037.9 865.6 L1044 861.2 L1049.3 861.2 L1056.4 853.3 L1063.4 844.5 L1069.6 842.7 L1075.7 846.3 L1082.8 841 L1089.8 851.5 L1096.5 855.1 L1099.5 826.9 L1103.9 784.6 L1109.2 754.7 L1115.7 743.2 L1123.3 753.8 L1130 763.5 L1135.6 759.1 L1142.3 771.4 L1148.8 757.3 L1155 750.3 L1161.7 774 L1168.2 760.8 L1175.8 760.8 L1181.4 788.1 L1187.6 804 L1193.8 801.3 L1201.2 785.5 L1207.9 804 L1214 811 L1221.1 838.3 L1227.9 840.6 L1233.2 800.5 L1238.5 767 L1245.5 751.1 L1254.3 745.5 L1260.5 748.5 L1267.2 766.6 L1273.7 756.4 L1280.8 760.3 L1286.9 762.6 L1292.6 773.7 L1299.3 761.7 L1306.3 754.7 L1312.5 762.6 L1318.6 768.8 L1325.7 775.8 L1332.7 763.5 L1339.8 770.9 L1345.9 767.9 L1353 759.1 L1359.2 760.8 L1361.8 782.8 L1366.2 820.7 L1372.4 825.1 L1378.5 812.8 L1385.6 818.1 L1391.7 847.1 L1397.9 844.5 L1404.1 808.4 L1411.1 782.8 L1417.3 771.4 L1424.3 761.7 L1431 758.5 L1435.8 781.1 L1439 790.8" fill="none" stroke="#ff00ff" stroke-width="1.45" stroke-linejoin="round"/>
<rect x="2" y="36.050000000000004" width="1466" height="2.1" fill="#0000d4"/>
<rect x="2" y="147.04999999999998" width="1466" height="2.1" fill="#0000d4"/>
<rect x="2" y="274.84999999999997" width="1466" height="2.1" fill="#0000d4"/>
<path d="M390 514.5 L1468 136.5 M705 514.5 L1468 247.5" stroke="#0000f0" stroke-width="1.45" fill="none"/>
<clipPath id="pc"><rect x="2" y="35.4" width="1466" height="478.9"/></clipPath><g clip-path="url(#pc)">
<path d="M150.4 123.2L158.2 131.8H153.8V139.7H147V131.8H142.7Z" fill="#ff0000"/>
<path d="M189.5 150.2L197.2 158.8H192.9V166.7H186.1V158.8H181.7Z" fill="#ff0000"/>
<path d="M269.1 301.9L276.8 310.4H272.5V318.4H265.7V310.4H261.3Z" fill="#ff0000"/>
<path d="M288.2 318.5L296 327.1H291.6V335H284.8V327.1H280.5Z" fill="#ff0000"/>
<path d="M309 319.8L316.7 328.4H312.4V336.3H305.6V328.4H301.2Z" fill="#ff0000"/>
<path d="M446.1 353.1L453.9 361.6H449.5V369.6H442.7V361.6H438.4Z" fill="#ff0000"/>
<path d="M512.3 353.1L520.1 361.7H515.7V369.6H508.9V361.7H504.6Z" fill="#ff0000"/>
<path d="M597.1 360.6L604.8 369.1H600.5V377.1H593.7V369.1H589.3Z" fill="#ff0000"/>
<path d="M624.5 380L632.3 388.6H627.9V396.5H621.1V388.6H616.8Z" fill="#ff0000"/>
<path d="M644.1 384.7L651.9 393.2H647.5V401.2H640.7V393.2H636.4Z" fill="#ff0000"/>
<path d="M754.8 501.3L762.6 509.9H758.2V517.8H751.4V509.9H747.1Z" fill="#ff0000"/>
<path d="M939.5 434.4L947.2 443H942.9V450.9H936.1V443H931.7Z" fill="#ff0000"/>
<path d="M1077.4 482.2L1085.1 490.8H1080.8V498.7H1074V490.8H1069.6Z" fill="#ff0000"/>
<path d="M1097 498.8L1104.7 507.4H1100.4V515.3H1093.6V507.4H1089.2Z" fill="#ff0000"/>
<path d="M1268 394.1L1275.8 402.7H1271.4V410.6H1264.6V402.7H1260.3Z" fill="#ff0000"/>
<path d="M398.1 215.7H404.1V223.5H408.6L401.1 231.2L393.6 223.5H398.1Z" fill="none" stroke="#00ff00" stroke-width="1.4"/>
<path d="M693.5 285.7H699.5V293.5H704L696.5 301.2L689 293.5H693.5Z" fill="none" stroke="#00ff00" stroke-width="1.4"/>
<path d="M831.5 351.7H837.5V359.5H842L834.5 367.2L827 359.5H831.5Z" fill="none" stroke="#00ff00" stroke-width="1.4"/>
<path d="M897.4 333.7H903.4V341.4H907.9L900.4 349.2L892.9 341.4H897.4Z" fill="none" stroke="#00ff00" stroke-width="1.4"/>
<path d="M1126.7 418.6H1132.7V426.3H1137.2L1129.7 434.1L1122.2 426.3H1126.7Z" fill="none" stroke="#00ff00" stroke-width="1.4"/>
<path d="M1140.5 415.2H1146.5V423H1151L1143.5 430.7L1136 423H1140.5Z" fill="none" stroke="#00ff00" stroke-width="1.4"/>
<path d="M1160 400.3H1166V408H1170.5L1163 415.8L1155.5 408H1160Z" fill="none" stroke="#00ff00" stroke-width="1.4"/>
<path d="M1179.6 383.7H1185.6V391.4H1190.1L1182.6 399.2L1175.1 391.4H1179.6Z" fill="none" stroke="#00ff00" stroke-width="1.4"/>
<path d="M1212.3 388.3H1218.3V396.1H1222.8L1215.3 403.8L1207.8 396.1H1212.3Z" fill="none" stroke="#00ff00" stroke-width="1.4"/>
<path d="M1364.1 103.3H1370.1V111H1374.6L1367.1 118.8L1359.6 111H1364.1Z" fill="none" stroke="#00ff00" stroke-width="1.4"/>
<path d="M1415.7 86.6H1421.7V94.4H1426.2L1418.7 102.1L1411.2 94.4H1415.7Z" fill="none" stroke="#00ff00" stroke-width="1.4"/>
<path d="M1428.6 83.3H1434.6V91.1H1439.1L1431.6 98.8L1424.1 91.1H1428.6Z" fill="none" stroke="#00ff00" stroke-width="1.4"/>
<path d="M62 33.5H68V41.2H72.5L65 49L57.5 41.2H62Z" fill="none" stroke="#00ff00" stroke-width="1.4"/>
<path d="M94.5 26H100.5V33.8H105L97.5 41.5L90 33.8H94.5Z" fill="none" stroke="#00ff00" stroke-width="1.4"/>
</g>
<path d="M93 40H103M93 40l4 -3M93 40l4 3" stroke="#e0e0e0" stroke-width="1.2" fill="none"/>
<text x="105.5" y="49.8" fill="#c0c0c0" font-size="18.8" textLength="63.5" lengthAdjust="spacingAndGlyphs" font-family="Liberation Sans, Noto Sans CJK SC, sans-serif" >3219.74</text>
<path d="M1103 505H1120M1103 505l5 -3.5M1103 505l5 3.5" stroke="#e0e0e0" stroke-width="1.2" fill="none"/>
<text x="1122.3" y="513.5" fill="#c0c0c0" font-size="18.8" textLength="63.3" lengthAdjust="spacingAndGlyphs" font-family="Liberation Sans, Noto Sans CJK SC, sans-serif" >2440.91</text>
<rect x="2" y="5" width="1465.5" height="30.4" fill="#000"/>
<text x="3" y="25.5" fill="#c0c0c0" font-size="18.1" textLength="178" lengthAdjust="spacingAndGlyphs" font-family="Liberation Sans, Noto Sans CJK SC, sans-serif" >上证指数(日线.前复权)</text>
<path d="M198.3 10L206.1 18.1H201.7V25.5H194.9V18.1H190.6Z" fill="#ff0000"/>
<text x="211.4" y="24.5" fill="#ffffff" font-size="18.8" textLength="109" lengthAdjust="spacingAndGlyphs" font-family="Liberation Sans, Noto Sans CJK SC, sans-serif" >MA5: 3086.05</text>
<text x="330" y="24.5" fill="#ffff00" font-size="18.8" textLength="119.5" lengthAdjust="spacingAndGlyphs" font-family="Liberation Sans, Noto Sans CJK SC, sans-serif" >MA10: 3062.64</text>
<text x="459.4" y="24.5" fill="#ff00ff" font-size="18.8" textLength="118.6" lengthAdjust="spacingAndGlyphs" font-family="Liberation Sans, Noto Sans CJK SC, sans-serif" >MA20: 3037.19</text>
<text x="588.7" y="24.5" fill="#00ff00" font-size="18.8" textLength="128.8" lengthAdjust="spacingAndGlyphs" font-family="Liberation Sans, Noto Sans CJK SC, sans-serif" >MA250: 2826.80</text>
<text x="2" y="551.4" fill="#ffffff" font-size="18.8" textLength="201" lengthAdjust="spacingAndGlyphs" font-family="Liberation Sans, Noto Sans CJK SC, sans-serif" >VOLUME: 380278752.00</text>
<text x="212.8" y="551.4" fill="#ffffff" font-size="18.8" textLength="161.7" lengthAdjust="spacingAndGlyphs" font-family="Liberation Sans, Noto Sans CJK SC, sans-serif" >MA5: 373768928.00</text>
<text x="383.7" y="551.4" fill="#ffff00" font-size="18.8" textLength="171.8" lengthAdjust="spacingAndGlyphs" font-family="Liberation Sans, Noto Sans CJK SC, sans-serif" >MA10: 394537760.00</text>
<text x="3" y="726.9" fill="#c0c0c0" font-size="18.8" textLength="85" lengthAdjust="spacingAndGlyphs" font-family="Liberation Sans, Noto Sans CJK SC, sans-serif" >KDJ(9,3,3)</text>
<text x="97.5" y="726.9" fill="#ffffff" font-size="18.8" textLength="65.5" lengthAdjust="spacingAndGlyphs" font-family="Liberation Sans, Noto Sans CJK SC, sans-serif" >K: 68.28</text>
<text x="173" y="726.9" fill="#ffff00" font-size="18.8" textLength="66.5" lengthAdjust="spacingAndGlyphs" font-family="Liberation Sans, Noto Sans CJK SC, sans-serif" >D: 69.28</text>
<text x="248" y="726.9" fill="#ff00ff" font-size="18.8" textLength="63.5" lengthAdjust="spacingAndGlyphs" font-family="Liberation Sans, Noto Sans CJK SC, sans-serif" >J: 66.29</text>
<rect x="141.8" y="886" width="1.4" height="5" fill="#b80000"/>
<rect x="271.8" y="886" width="1.4" height="5" fill="#b80000"/>
<rect x="417.55" y="886" width="1.4" height="5" fill="#b80000"/>
<rect x="567.55" y="886" width="1.4" height="5" fill="#b80000"/>
<rect x="693.55" y="886" width="1.4" height="5" fill="#b80000"/>
<rect x="811.8" y="886" width="1.4" height="5" fill="#b80000"/>
<rect x="956.3" y="886" width="1.4" height="5" fill="#b80000"/>
<rect x="1088.05" y="886" width="1.4" height="5" fill="#b80000"/>
<rect x="1231.8" y="886" width="1.4" height="5" fill="#b80000"/>
<rect x="1330.55" y="886" width="1.4" height="5" fill="#b80000"/>
<rect x="174.3" y="886" width="1.4" height="3" fill="#b80000"/>
<rect x="207.3" y="886" width="1.4" height="3" fill="#b80000"/>
<rect x="238.8" y="886" width="1.4" height="3" fill="#b80000"/>
<rect x="308.05" y="886" width="1.4" height="3" fill="#b80000"/>
<rect x="345.55" y="886" width="1.4" height="3" fill="#b80000"/>
<rect x="381.3" y="886" width="1.4" height="3" fill="#b80000"/>
<rect x="455.05" y="886" width="1.4" height="3" fill="#b80000"/>
<rect x="492.3" y="886" width="1.4" height="3" fill="#b80000"/>
<rect x="529.8" y="886" width="1.4" height="3" fill="#b80000"/>
<rect x="599.3" y="886" width="1.4" height="3" fill="#b80000"/>
<rect x="630.55" y="886" width="1.4" height="3" fill="#b80000"/>
<rect x="662.3" y="886" width="1.4" height="3" fill="#b80000"/>
<rect x="723.55" y="886" width="1.4" height="3" fill="#b80000"/>
<rect x="753.55" y="886" width="1.4" height="3" fill="#b80000"/>
<rect x="781.8" y="886" width="1.4" height="3" fill="#b80000"/>
<rect x="848.05" y="886" width="1.4" height="3" fill="#b80000"/>
<rect x="884.3" y="886" width="1.4" height="3" fill="#b80000"/>
<rect x="920.55" y="886" width="1.4" height="3" fill="#b80000"/>
<rect x="989.3" y="886" width="1.4" height="3" fill="#b80000"/>
<rect x="1021.8" y="886" width="1.4" height="3" fill="#b80000"/>
<rect x="1054.8" y="886" width="1.4" height="3" fill="#b80000"/>
<rect x="1123.8" y="886" width="1.4" height="3" fill="#b80000"/>
<rect x="1160.05" y="886" width="1.4" height="3" fill="#b80000"/>
<rect x="1196.05" y="886" width="1.4" height="3" fill="#b80000"/>
<rect x="1257.55" y="886" width="1.4" height="3" fill="#b80000"/>
<rect x="1281.8" y="886" width="1.4" height="3" fill="#b80000"/>
<rect x="1306.8" y="886" width="1.4" height="3" fill="#b80000"/>
<text x="7" y="902.2" fill="#b80000" font-size="17.5" font-family="Liberation Sans, Noto Sans CJK SC, sans-serif" >2018</text>
<rect x="50" y="886" width="1.3" height="5" fill="#b80000"/>
<text x="146" y="902.2" fill="#b80000" font-size="17.5" font-family="Liberation Sans, Noto Sans CJK SC, sans-serif" >6</text>
<text x="276" y="902.2" fill="#b80000" font-size="17.5" font-family="Liberation Sans, Noto Sans CJK SC, sans-serif" >7</text>
<text x="422" y="902.2" fill="#b80000" font-size="17.5" font-family="Liberation Sans, Noto Sans CJK SC, sans-serif" >8</text>
<text x="572" y="902.2" fill="#b80000" font-size="17.5" font-family="Liberation Sans, Noto Sans CJK SC, sans-serif" >9</text>
<text x="698" y="902.2" fill="#b80000" font-size="17.5" font-family="Liberation Sans, Noto Sans CJK SC, sans-serif" >10</text>
<text x="816" y="902.2" fill="#b80000" font-size="17.5" font-family="Liberation Sans, Noto Sans CJK SC, sans-serif" >11</text>
<text x="961" y="902.2" fill="#b80000" font-size="17.5" font-family="Liberation Sans, Noto Sans CJK SC, sans-serif" >12</text>
<text x="1092" y="902.2" fill="#b80000" font-size="17.5" font-family="Liberation Sans, Noto Sans CJK SC, sans-serif" >2019</text>
<text x="1236" y="902.2" fill="#b80000" font-size="17.5" font-family="Liberation Sans, Noto Sans CJK SC, sans-serif" >2</text>
<text x="1335" y="902.2" fill="#b80000" font-size="17.5" font-family="Liberation Sans, Noto Sans CJK SC, sans-serif" >3</text>
<path d="M1435.2 11.2L1443.4 19.4L1435.2 27.6L1427 19.4Z" fill="none" stroke="#b80000" stroke-width="1.5"/>
<path d="M1450 11.7H1464V27H1450ZM1458.7 11.7V27" fill="none" stroke="#b80000" stroke-width="1.5"/>
<rect x="1428.5" y="32" width="4.5" height="3" fill="#ff00ff"/><rect x="1436" y="32" width="4.5" height="3" fill="#ff00ff"/>
</svg></body></html>
